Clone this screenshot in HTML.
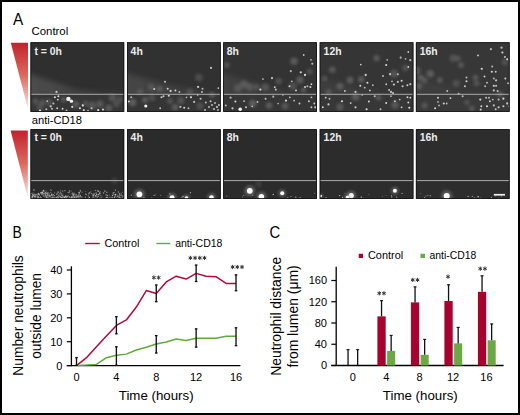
<!DOCTYPE html>
<html><head><meta charset="utf-8"><style>
html,body{margin:0;padding:0;background:#fff;}
body{width:520px;height:415px;overflow:hidden;}
svg{display:block;font-family:"Liberation Sans",sans-serif;}
</style></head><body>
<svg width="520" height="415" viewBox="0 0 520 415">
<defs>
<linearGradient id="tri" x1="0" y1="0" x2="0" y2="1"><stop offset="0" stop-color="#c2222e"/><stop offset="0.5" stop-color="#dd6a5e"/><stop offset="1" stop-color="#fbe9e6"/></linearGradient>
<filter id="blur1" x="-50%" y="-50%" width="200%" height="200%"><feGaussianBlur stdDeviation="1.6"/></filter>
<filter id="blur05" x="-50%" y="-50%" width="200%" height="200%"><feGaussianBlur stdDeviation="0.45"/></filter>
<linearGradient id="band" x1="0" y1="0" x2="0" y2="1"><stop offset="0" stop-color="#2c2c2c"/><stop offset="0.45" stop-color="#303030"/><stop offset="0.8" stop-color="#444"/><stop offset="1" stop-color="#3a3a3a"/></linearGradient>
<filter id="blur3" x="-50%" y="-50%" width="200%" height="200%"><feGaussianBlur stdDeviation="3.5"/></filter>
<filter id="blur03" x="-50%" y="-50%" width="200%" height="200%"><feGaussianBlur stdDeviation="0.3"/></filter>
<filter id="blur2" x="-50%" y="-50%" width="200%" height="200%"><feGaussianBlur stdDeviation="2.4"/></filter>
<filter id="blur04" x="-80%" y="-80%" width="260%" height="260%"><feGaussianBlur stdDeviation="0.5"/></filter>
</defs>
<rect x="1" y="1" width="518" height="413" fill="none" stroke="#000" stroke-width="2"/>
<text transform="translate(13.0,25.4) scale(0.9,1)" font-size="17">A</text>
<text x="31.5" y="34.5" font-size="11.4" text-anchor="start" fill="#000" >Control</text>
<text x="31.7" y="124.4" font-size="11.2" text-anchor="start" fill="#000" >anti-CD18</text>
<polygon points="10.8,42.8 28,42.8 28,109" fill="url(#tri)"/>
<polygon points="10.6,130.6 27.8,130.6 27.8,197.5" fill="url(#tri)"/>
<clipPath id="cp00"><rect x="30.9" y="42.699999999999996" width="92.9" height="68.7"/></clipPath>
<rect x="30.5" y="42.3" width="93.7" height="69.5" fill="#1c1c1c"/>
<g clip-path="url(#cp00)">
<rect x="30.5" y="42.3" width="93.7" height="69.5" fill="#2f2f2f"/>
<linearGradient id="bg0" gradientUnits="userSpaceOnUse" x1="30.5" y1="0" x2="124.2" y2="0"><stop offset="0" stop-color="#4c4c4c"/><stop offset="1" stop-color="#393939"/></linearGradient>
<path d="M24.5,72.4 L55,82 L75.7,89.2 L100,92.0 L124.2,92.5 L128.2,96.3 L24.5,96.3 Z" fill="url(#bg0)" filter="url(#blur2)"/>
<rect x="30.5" y="94.3" width="93.7" height="17.5" fill="#363636"/>
<circle cx="35.7" cy="101.5" r="2.93" fill="#6e6e6e" opacity="0.59" filter="url(#blur1)"/>
<circle cx="42.4" cy="102.5" r="3.12" fill="#6e6e6e" opacity="0.60" filter="url(#blur1)"/>
<circle cx="49.2" cy="102.5" r="3.48" fill="#6e6e6e" opacity="0.47" filter="url(#blur1)"/>
<circle cx="63.6" cy="99.6" r="2.62" fill="#6e6e6e" opacity="0.66" filter="url(#blur1)"/>
<circle cx="85.7" cy="103.5" r="2.96" fill="#6e6e6e" opacity="0.51" filter="url(#blur1)"/>
<circle cx="92.4" cy="105.4" r="3.99" fill="#6e6e6e" opacity="0.57" filter="url(#blur1)"/>
<circle cx="112.6" cy="97.7" r="3.77" fill="#6e6e6e" opacity="0.57" filter="url(#blur1)"/>
<circle cx="116.5" cy="103.5" r="3.49" fill="#6e6e6e" opacity="0.49" filter="url(#blur1)"/>
<circle cx="108.8" cy="108.3" r="3.49" fill="#6e6e6e" opacity="0.67" filter="url(#blur1)"/>
<circle cx="76" cy="104.4" r="3.33" fill="#6e6e6e" opacity="0.64" filter="url(#blur1)"/>
<circle cx="40" cy="107" r="3.54" fill="#6e6e6e" opacity="0.47" filter="url(#blur1)"/>
<circle cx="100" cy="104" r="3.66" fill="#6e6e6e" opacity="0.60" filter="url(#blur1)"/>
<circle cx="120" cy="99" r="3.02" fill="#6e6e6e" opacity="0.46" filter="url(#blur1)"/>
<circle cx="56.5" cy="91.9" r="1.11" fill="#e6e6e6" opacity="0.82" filter="url(#blur04)"/>
<circle cx="54.9" cy="97.3" r="1.07" fill="#e6e6e6" opacity="0.92" filter="url(#blur04)"/>
<circle cx="58.4" cy="96.2" r="1.06" fill="#e6e6e6" opacity="0.93" filter="url(#blur04)"/>
<circle cx="57.8" cy="99.6" r="0.97" fill="#e6e6e6" opacity="0.90" filter="url(#blur04)"/>
<circle cx="70.7" cy="101.5" r="0.98" fill="#e6e6e6" opacity="0.93" filter="url(#blur04)"/>
<circle cx="53.4" cy="103.5" r="1.11" fill="#e6e6e6" opacity="0.72" filter="url(#blur04)"/>
<circle cx="47.2" cy="101.2" r="0.89" fill="#e6e6e6" opacity="0.75" filter="url(#blur04)"/>
<circle cx="50.7" cy="106.3" r="1.14" fill="#e6e6e6" opacity="0.81" filter="url(#blur04)"/>
<circle cx="52" cy="108.8" r="1.04" fill="#e6e6e6" opacity="0.78" filter="url(#blur04)"/>
<circle cx="57.2" cy="108.3" r="1.00" fill="#e6e6e6" opacity="0.80" filter="url(#blur04)"/>
<circle cx="62.6" cy="108.8" r="0.96" fill="#e6e6e6" opacity="0.85" filter="url(#blur04)"/>
<circle cx="72.2" cy="106.9" r="1.03" fill="#e6e6e6" opacity="0.93" filter="url(#blur04)"/>
<circle cx="79.9" cy="108.3" r="1.05" fill="#e6e6e6" opacity="0.93" filter="url(#blur04)"/>
<circle cx="82.8" cy="105.4" r="1.11" fill="#e6e6e6" opacity="0.95" filter="url(#blur04)"/>
<circle cx="91.5" cy="108.3" r="1.05" fill="#e6e6e6" opacity="0.74" filter="url(#blur04)"/>
<circle cx="98.2" cy="110.2" r="1.11" fill="#e6e6e6" opacity="0.94" filter="url(#blur04)"/>
<circle cx="103" cy="109.6" r="1.12" fill="#e6e6e6" opacity="0.84" filter="url(#blur04)"/>
<circle cx="46.3" cy="109.2" r="1.06" fill="#e6e6e6" opacity="0.75" filter="url(#blur04)"/>
<circle cx="83.8" cy="110.2" r="1.10" fill="#e6e6e6" opacity="0.84" filter="url(#blur04)"/>
<circle cx="66.5" cy="110.5" r="0.94" fill="#e6e6e6" opacity="0.72" filter="url(#blur04)"/>
<circle cx="40" cy="110.6" r="1.11" fill="#e6e6e6" opacity="0.95" filter="url(#blur04)"/>
<circle cx="88" cy="110.8" r="0.88" fill="#e6e6e6" opacity="0.90" filter="url(#blur04)"/>
<circle cx="68.4" cy="98.9" r="2.2" fill="#f4f4f4" filter="url(#blur05)"/>
<circle cx="71.5" cy="101.2" r="1.6" fill="#f4f4f4" filter="url(#blur05)"/>
</g>
<line x1="31.0" y1="94.3" x2="123.7" y2="94.3" stroke="#ababab" stroke-width="1"/>
<rect x="30.9" y="42.699999999999996" width="92.9" height="68.7" fill="none" stroke="#161616" stroke-width="0.8"/>
<text transform="translate(34.40,55.00) scale(1.04,1)" font-size="10.0" font-weight="bold" fill="#ececec">t = 0h</text>
<clipPath id="cp01"><rect x="127.4" y="42.699999999999996" width="92.9" height="68.7"/></clipPath>
<rect x="127.0" y="42.3" width="93.7" height="69.5" fill="#1c1c1c"/>
<g clip-path="url(#cp01)">
<rect x="127.0" y="42.3" width="93.7" height="69.5" fill="#313131"/>
<linearGradient id="bg1" gradientUnits="userSpaceOnUse" x1="127.0" y1="0" x2="220.8" y2="0"><stop offset="0" stop-color="#464646"/><stop offset="1" stop-color="#383838"/></linearGradient>
<path d="M121.0,71.7 L163.5,83.3 L192.3,89 L220.8,92.5 L224.8,96.3 L121.0,96.3 Z" fill="url(#bg1)" filter="url(#blur2)"/>
<rect x="127.0" y="94.3" width="93.7" height="17.5" fill="#353535"/>
<circle cx="151" cy="87" r="3.17" fill="#6e6e6e" opacity="0.49" filter="url(#blur1)"/>
<circle cx="159.6" cy="89" r="3.01" fill="#6e6e6e" opacity="0.64" filter="url(#blur1)"/>
<circle cx="199" cy="77.5" r="3.82" fill="#6e6e6e" opacity="0.46" filter="url(#blur1)"/>
<circle cx="152" cy="97.7" r="3.46" fill="#6e6e6e" opacity="0.46" filter="url(#blur1)"/>
<circle cx="180.8" cy="100.6" r="3.61" fill="#6e6e6e" opacity="0.53" filter="url(#blur1)"/>
<circle cx="132.7" cy="102.5" r="3.83" fill="#6e6e6e" opacity="0.70" filter="url(#blur1)"/>
<circle cx="175" cy="107.3" r="3.31" fill="#6e6e6e" opacity="0.70" filter="url(#blur1)"/>
<circle cx="140" cy="92" r="3.03" fill="#6e6e6e" opacity="0.47" filter="url(#blur1)"/>
<circle cx="190" cy="92" r="3.44" fill="#6e6e6e" opacity="0.46" filter="url(#blur1)"/>
<circle cx="170" cy="101" r="2.88" fill="#6e6e6e" opacity="0.55" filter="url(#blur1)"/>
<circle cx="200" cy="106" r="3.45" fill="#6e6e6e" opacity="0.49" filter="url(#blur1)"/>
<circle cx="212" cy="95" r="2.66" fill="#6e6e6e" opacity="0.67" filter="url(#blur1)"/>
<circle cx="145" cy="100" r="3.04" fill="#6e6e6e" opacity="0.69" filter="url(#blur1)"/>
<circle cx="211" cy="67.9" r="1.12" fill="#e6e6e6" opacity="0.79" filter="url(#blur04)"/>
<circle cx="165" cy="81.7" r="0.99" fill="#e6e6e6" opacity="0.83" filter="url(#blur04)"/>
<circle cx="154.2" cy="89" r="1.04" fill="#e6e6e6" opacity="0.85" filter="url(#blur04)"/>
<circle cx="167.7" cy="88.7" r="1.02" fill="#e6e6e6" opacity="0.86" filter="url(#blur04)"/>
<circle cx="170.6" cy="91" r="1.13" fill="#e6e6e6" opacity="0.83" filter="url(#blur04)"/>
<circle cx="175.4" cy="90.4" r="0.98" fill="#e6e6e6" opacity="0.88" filter="url(#blur04)"/>
<circle cx="179.4" cy="91.9" r="0.92" fill="#e6e6e6" opacity="0.78" filter="url(#blur04)"/>
<circle cx="198.1" cy="86.9" r="1.14" fill="#e6e6e6" opacity="0.83" filter="url(#blur04)"/>
<circle cx="202.5" cy="88.7" r="1.01" fill="#e6e6e6" opacity="0.70" filter="url(#blur04)"/>
<circle cx="201.9" cy="91.9" r="0.97" fill="#e6e6e6" opacity="0.84" filter="url(#blur04)"/>
<circle cx="218.3" cy="88.1" r="0.86" fill="#e6e6e6" opacity="0.85" filter="url(#blur04)"/>
<circle cx="131.2" cy="97.3" r="1.04" fill="#e6e6e6" opacity="0.72" filter="url(#blur04)"/>
<circle cx="161.5" cy="97.3" r="1.04" fill="#e6e6e6" opacity="0.82" filter="url(#blur04)"/>
<circle cx="163.5" cy="96.2" r="1.05" fill="#e6e6e6" opacity="0.79" filter="url(#blur04)"/>
<circle cx="168.8" cy="95.8" r="1.06" fill="#e6e6e6" opacity="0.88" filter="url(#blur04)"/>
<circle cx="186.5" cy="97.3" r="0.86" fill="#e6e6e6" opacity="0.72" filter="url(#blur04)"/>
<circle cx="191" cy="97.3" r="1.05" fill="#e6e6e6" opacity="0.94" filter="url(#blur04)"/>
<circle cx="197.7" cy="94.8" r="0.93" fill="#e6e6e6" opacity="0.81" filter="url(#blur04)"/>
<circle cx="200.6" cy="98.7" r="1.03" fill="#e6e6e6" opacity="0.78" filter="url(#blur04)"/>
<circle cx="205.8" cy="102.5" r="0.96" fill="#e6e6e6" opacity="0.78" filter="url(#blur04)"/>
<circle cx="210.6" cy="101.2" r="0.96" fill="#e6e6e6" opacity="0.85" filter="url(#blur04)"/>
<circle cx="160.2" cy="108.3" r="0.94" fill="#e6e6e6" opacity="0.79" filter="url(#blur04)"/>
<circle cx="180.4" cy="106.9" r="1.08" fill="#e6e6e6" opacity="0.71" filter="url(#blur04)"/>
<circle cx="184.2" cy="107.7" r="1.02" fill="#e6e6e6" opacity="0.88" filter="url(#blur04)"/>
<circle cx="188.5" cy="108.3" r="0.94" fill="#e6e6e6" opacity="0.76" filter="url(#blur04)"/>
<circle cx="194.2" cy="101.9" r="1.09" fill="#e6e6e6" opacity="0.76" filter="url(#blur04)"/>
<circle cx="209" cy="107" r="0.91" fill="#e6e6e6" opacity="0.81" filter="url(#blur04)"/>
<circle cx="212" cy="105" r="1.06" fill="#e6e6e6" opacity="0.73" filter="url(#blur04)"/>
<circle cx="215" cy="103" r="0.95" fill="#e6e6e6" opacity="0.78" filter="url(#blur04)"/>
<circle cx="217" cy="107" r="1.10" fill="#e6e6e6" opacity="0.81" filter="url(#blur04)"/>
<circle cx="219" cy="105" r="1.11" fill="#e6e6e6" opacity="0.74" filter="url(#blur04)"/>
<circle cx="214" cy="109" r="0.95" fill="#e6e6e6" opacity="0.86" filter="url(#blur04)"/>
<circle cx="128.8" cy="101.5" r="1.12" fill="#e6e6e6" opacity="0.81" filter="url(#blur04)"/>
<circle cx="218" cy="110" r="0.92" fill="#e6e6e6" opacity="0.73" filter="url(#blur04)"/>
<circle cx="205" cy="110" r="1.01" fill="#e6e6e6" opacity="0.75" filter="url(#blur04)"/>
<circle cx="145.8" cy="106" r="1.6" fill="#f4f4f4" filter="url(#blur05)"/>
</g>
<line x1="127.5" y1="94.3" x2="220.2" y2="94.3" stroke="#ababab" stroke-width="1"/>
<rect x="127.4" y="42.699999999999996" width="92.9" height="68.7" fill="none" stroke="#161616" stroke-width="0.8"/>
<text transform="translate(130.60,55.00) scale(1.04,1)" font-size="10.0" font-weight="bold" fill="#ececec">4h</text>
<clipPath id="cp02"><rect x="223.6" y="42.699999999999996" width="92.9" height="68.7"/></clipPath>
<rect x="223.2" y="42.3" width="93.7" height="69.5" fill="#1c1c1c"/>
<g clip-path="url(#cp02)">
<rect x="223.2" y="42.3" width="93.7" height="69.5" fill="#333333"/>
<linearGradient id="bg2" gradientUnits="userSpaceOnUse" x1="223.2" y1="0" x2="317" y2="0"><stop offset="0" stop-color="#424242"/><stop offset="1" stop-color="#383838"/></linearGradient>
<path d="M217.2,71.7 L269,87 L288,91.5 L317,93 L321,96.3 L217.2,96.3 Z" fill="url(#bg2)" filter="url(#blur2)"/>
<rect x="223.2" y="94.3" width="93.7" height="17.5" fill="#363636"/>
<circle cx="294" cy="61.2" r="3.73" fill="#6e6e6e" opacity="0.66" filter="url(#blur1)"/>
<circle cx="309.5" cy="71.7" r="2.86" fill="#6e6e6e" opacity="0.52" filter="url(#blur1)"/>
<circle cx="244" cy="84.2" r="3.73" fill="#6e6e6e" opacity="0.61" filter="url(#blur1)"/>
<circle cx="249.8" cy="87.1" r="3.73" fill="#6e6e6e" opacity="0.54" filter="url(#blur1)"/>
<circle cx="256.6" cy="87.1" r="2.78" fill="#6e6e6e" opacity="0.52" filter="url(#blur1)"/>
<circle cx="265.2" cy="87.1" r="3.71" fill="#6e6e6e" opacity="0.52" filter="url(#blur1)"/>
<circle cx="226.8" cy="65" r="3.08" fill="#6e6e6e" opacity="0.55" filter="url(#blur1)"/>
<circle cx="278.7" cy="81.3" r="3.19" fill="#6e6e6e" opacity="0.55" filter="url(#blur1)"/>
<circle cx="293" cy="86.2" r="3.89" fill="#6e6e6e" opacity="0.49" filter="url(#blur1)"/>
<circle cx="303.7" cy="90" r="2.61" fill="#6e6e6e" opacity="0.69" filter="url(#blur1)"/>
<circle cx="252.7" cy="103.5" r="3.83" fill="#6e6e6e" opacity="0.70" filter="url(#blur1)"/>
<circle cx="269" cy="105.4" r="3.21" fill="#6e6e6e" opacity="0.69" filter="url(#blur1)"/>
<circle cx="238" cy="88" r="3.90" fill="#6e6e6e" opacity="0.51" filter="url(#blur1)"/>
<circle cx="300" cy="80" r="3.64" fill="#6e6e6e" opacity="0.66" filter="url(#blur1)"/>
<circle cx="285" cy="106" r="3.53" fill="#6e6e6e" opacity="0.58" filter="url(#blur1)"/>
<circle cx="303.7" cy="55" r="0.94" fill="#e6e6e6" opacity="0.79" filter="url(#blur04)"/>
<circle cx="311" cy="59.8" r="0.92" fill="#e6e6e6" opacity="0.72" filter="url(#blur04)"/>
<circle cx="312.3" cy="63.7" r="1.03" fill="#e6e6e6" opacity="0.77" filter="url(#blur04)"/>
<circle cx="290.8" cy="71.2" r="1.09" fill="#e6e6e6" opacity="0.71" filter="url(#blur04)"/>
<circle cx="300.8" cy="72.3" r="1.12" fill="#e6e6e6" opacity="0.87" filter="url(#blur04)"/>
<circle cx="305" cy="75" r="1.13" fill="#e6e6e6" opacity="0.92" filter="url(#blur04)"/>
<circle cx="272" cy="78.1" r="1.12" fill="#e6e6e6" opacity="0.84" filter="url(#blur04)"/>
<circle cx="262.9" cy="79" r="0.85" fill="#e6e6e6" opacity="0.89" filter="url(#blur04)"/>
<circle cx="291.8" cy="81.3" r="0.90" fill="#e6e6e6" opacity="0.77" filter="url(#blur04)"/>
<circle cx="289.5" cy="86.2" r="1.05" fill="#e6e6e6" opacity="0.83" filter="url(#blur04)"/>
<circle cx="274.8" cy="87.1" r="0.97" fill="#e6e6e6" opacity="0.93" filter="url(#blur04)"/>
<circle cx="275.8" cy="89.6" r="1.03" fill="#e6e6e6" opacity="0.79" filter="url(#blur04)"/>
<circle cx="296" cy="90.4" r="0.93" fill="#e6e6e6" opacity="0.92" filter="url(#blur04)"/>
<circle cx="305" cy="87.1" r="0.99" fill="#e6e6e6" opacity="0.90" filter="url(#blur04)"/>
<circle cx="307.5" cy="86.2" r="0.96" fill="#e6e6e6" opacity="0.75" filter="url(#blur04)"/>
<circle cx="310.4" cy="87.1" r="1.01" fill="#e6e6e6" opacity="0.90" filter="url(#blur04)"/>
<circle cx="311.4" cy="84.2" r="0.90" fill="#e6e6e6" opacity="0.90" filter="url(#blur04)"/>
<circle cx="260.4" cy="89.6" r="1.13" fill="#e6e6e6" opacity="0.90" filter="url(#blur04)"/>
<circle cx="230.6" cy="97.7" r="1.10" fill="#e6e6e6" opacity="0.70" filter="url(#blur04)"/>
<circle cx="235.4" cy="101.5" r="1.04" fill="#e6e6e6" opacity="0.92" filter="url(#blur04)"/>
<circle cx="244.1" cy="101.2" r="0.86" fill="#e6e6e6" opacity="0.77" filter="url(#blur04)"/>
<circle cx="257.5" cy="101.9" r="0.93" fill="#e6e6e6" opacity="0.83" filter="url(#blur04)"/>
<circle cx="265.6" cy="98.7" r="0.98" fill="#e6e6e6" opacity="0.82" filter="url(#blur04)"/>
<circle cx="273.3" cy="96.7" r="1.08" fill="#e6e6e6" opacity="0.70" filter="url(#blur04)"/>
<circle cx="278.1" cy="103.5" r="0.87" fill="#e6e6e6" opacity="0.73" filter="url(#blur04)"/>
<circle cx="282.9" cy="94.8" r="0.89" fill="#e6e6e6" opacity="0.72" filter="url(#blur04)"/>
<circle cx="286" cy="100.6" r="1.14" fill="#e6e6e6" opacity="0.91" filter="url(#blur04)"/>
<circle cx="289.8" cy="97.3" r="0.88" fill="#e6e6e6" opacity="0.83" filter="url(#blur04)"/>
<circle cx="294.1" cy="100.6" r="0.94" fill="#e6e6e6" opacity="0.78" filter="url(#blur04)"/>
<circle cx="299.5" cy="103.5" r="0.96" fill="#e6e6e6" opacity="0.86" filter="url(#blur04)"/>
<circle cx="308.9" cy="101.2" r="1.03" fill="#e6e6e6" opacity="0.79" filter="url(#blur04)"/>
<circle cx="311.4" cy="97.3" r="0.91" fill="#e6e6e6" opacity="0.78" filter="url(#blur04)"/>
<circle cx="314.3" cy="103.5" r="0.89" fill="#e6e6e6" opacity="0.84" filter="url(#blur04)"/>
<circle cx="246" cy="107.3" r="1.06" fill="#e6e6e6" opacity="0.80" filter="url(#blur04)"/>
<circle cx="252.2" cy="106.3" r="0.87" fill="#e6e6e6" opacity="0.74" filter="url(#blur04)"/>
<circle cx="311.4" cy="107.3" r="0.96" fill="#e6e6e6" opacity="0.85" filter="url(#blur04)"/>
<circle cx="315.2" cy="107.3" r="1.08" fill="#e6e6e6" opacity="0.80" filter="url(#blur04)"/>
<circle cx="232.5" cy="108.3" r="1.09" fill="#e6e6e6" opacity="0.86" filter="url(#blur04)"/>
<circle cx="225.8" cy="105.4" r="0.98" fill="#e6e6e6" opacity="0.79" filter="url(#blur04)"/>
<circle cx="240.2" cy="109.2" r="1.8" fill="#f4f4f4" filter="url(#blur05)"/>
</g>
<line x1="223.7" y1="94.3" x2="316.4" y2="94.3" stroke="#ababab" stroke-width="1"/>
<rect x="223.6" y="42.699999999999996" width="92.9" height="68.7" fill="none" stroke="#161616" stroke-width="0.8"/>
<text transform="translate(226.80,55.00) scale(1.04,1)" font-size="10.0" font-weight="bold" fill="#ececec">8h</text>
<clipPath id="cp03"><rect x="320.09999999999997" y="42.699999999999996" width="92.9" height="68.7"/></clipPath>
<rect x="319.7" y="42.3" width="93.7" height="69.5" fill="#1c1c1c"/>
<g clip-path="url(#cp03)">
<rect x="319.7" y="42.3" width="93.7" height="69.5" fill="#353535"/>
<linearGradient id="bg3" gradientUnits="userSpaceOnUse" x1="319.7" y1="0" x2="413" y2="0"><stop offset="0" stop-color="#3e3e3e"/><stop offset="1" stop-color="#373737"/></linearGradient>
<path d="M313.7,77.5 L345,84 L374.7,91 L413,93 L417,96.3 L313.7,96.3 Z" fill="url(#bg3)" filter="url(#blur2)"/>
<rect x="319.7" y="94.3" width="93.7" height="17.5" fill="#373737"/>
<circle cx="332.4" cy="69.8" r="3.29" fill="#6e6e6e" opacity="0.63" filter="url(#blur1)"/>
<circle cx="376.6" cy="58.3" r="3.19" fill="#6e6e6e" opacity="0.62" filter="url(#blur1)"/>
<circle cx="405.5" cy="67.9" r="3.25" fill="#6e6e6e" opacity="0.51" filter="url(#blur1)"/>
<circle cx="340" cy="86.2" r="3.35" fill="#6e6e6e" opacity="0.62" filter="url(#blur1)"/>
<circle cx="324.7" cy="78.5" r="2.70" fill="#6e6e6e" opacity="0.56" filter="url(#blur1)"/>
<circle cx="361.2" cy="79.4" r="3.20" fill="#6e6e6e" opacity="0.67" filter="url(#blur1)"/>
<circle cx="394" cy="73.7" r="3.91" fill="#6e6e6e" opacity="0.54" filter="url(#blur1)"/>
<circle cx="355.5" cy="96.7" r="3.86" fill="#6e6e6e" opacity="0.65" filter="url(#blur1)"/>
<circle cx="328.5" cy="92" r="2.97" fill="#6e6e6e" opacity="0.57" filter="url(#blur1)"/>
<circle cx="378.5" cy="97.7" r="2.77" fill="#6e6e6e" opacity="0.65" filter="url(#blur1)"/>
<circle cx="350" cy="80" r="3.53" fill="#6e6e6e" opacity="0.67" filter="url(#blur1)"/>
<circle cx="395" cy="105" r="3.71" fill="#6e6e6e" opacity="0.62" filter="url(#blur1)"/>
<circle cx="340" cy="107" r="3.63" fill="#6e6e6e" opacity="0.59" filter="url(#blur1)"/>
<circle cx="360.8" cy="64.6" r="0.88" fill="#e6e6e6" opacity="0.85" filter="url(#blur04)"/>
<circle cx="387.2" cy="59.8" r="0.85" fill="#e6e6e6" opacity="0.74" filter="url(#blur04)"/>
<circle cx="400.7" cy="57.7" r="1.08" fill="#e6e6e6" opacity="0.71" filter="url(#blur04)"/>
<circle cx="405.5" cy="58.8" r="0.88" fill="#e6e6e6" opacity="0.72" filter="url(#blur04)"/>
<circle cx="410.3" cy="60.2" r="1.11" fill="#e6e6e6" opacity="0.74" filter="url(#blur04)"/>
<circle cx="408.3" cy="51.9" r="0.86" fill="#e6e6e6" opacity="0.91" filter="url(#blur04)"/>
<circle cx="408.3" cy="66.9" r="0.89" fill="#e6e6e6" opacity="0.91" filter="url(#blur04)"/>
<circle cx="386.2" cy="65" r="1.05" fill="#e6e6e6" opacity="0.91" filter="url(#blur04)"/>
<circle cx="365.7" cy="75" r="1.14" fill="#e6e6e6" opacity="0.84" filter="url(#blur04)"/>
<circle cx="383" cy="76" r="1.09" fill="#e6e6e6" opacity="0.71" filter="url(#blur04)"/>
<circle cx="390.1" cy="74.2" r="1.08" fill="#e6e6e6" opacity="0.83" filter="url(#blur04)"/>
<circle cx="397.8" cy="74.2" r="1.06" fill="#e6e6e6" opacity="0.73" filter="url(#blur04)"/>
<circle cx="367.4" cy="82.7" r="1.07" fill="#e6e6e6" opacity="0.93" filter="url(#blur04)"/>
<circle cx="372.8" cy="85.2" r="0.87" fill="#e6e6e6" opacity="0.78" filter="url(#blur04)"/>
<circle cx="360.3" cy="85.8" r="1.02" fill="#e6e6e6" opacity="0.91" filter="url(#blur04)"/>
<circle cx="364.7" cy="87.7" r="0.92" fill="#e6e6e6" opacity="0.74" filter="url(#blur04)"/>
<circle cx="344.9" cy="91" r="0.92" fill="#e6e6e6" opacity="0.85" filter="url(#blur04)"/>
<circle cx="355.5" cy="91.9" r="1.08" fill="#e6e6e6" opacity="0.80" filter="url(#blur04)"/>
<circle cx="369.9" cy="90.4" r="0.96" fill="#e6e6e6" opacity="0.80" filter="url(#blur04)"/>
<circle cx="386.2" cy="84.2" r="0.96" fill="#e6e6e6" opacity="0.80" filter="url(#blur04)"/>
<circle cx="392" cy="81.3" r="0.87" fill="#e6e6e6" opacity="0.83" filter="url(#blur04)"/>
<circle cx="393.9" cy="84.6" r="1.14" fill="#e6e6e6" opacity="0.80" filter="url(#blur04)"/>
<circle cx="397.8" cy="81.9" r="1.07" fill="#e6e6e6" opacity="0.74" filter="url(#blur04)"/>
<circle cx="401.6" cy="80.8" r="1.06" fill="#e6e6e6" opacity="0.89" filter="url(#blur04)"/>
<circle cx="402.6" cy="86.2" r="1.05" fill="#e6e6e6" opacity="0.83" filter="url(#blur04)"/>
<circle cx="407.4" cy="85.2" r="1.00" fill="#e6e6e6" opacity="0.86" filter="url(#blur04)"/>
<circle cx="410.3" cy="84.2" r="1.12" fill="#e6e6e6" opacity="0.74" filter="url(#blur04)"/>
<circle cx="389.1" cy="90" r="0.88" fill="#e6e6e6" opacity="0.89" filter="url(#blur04)"/>
<circle cx="391" cy="91.9" r="1.12" fill="#e6e6e6" opacity="0.83" filter="url(#blur04)"/>
<circle cx="393" cy="92.9" r="0.98" fill="#e6e6e6" opacity="0.88" filter="url(#blur04)"/>
<circle cx="362.2" cy="94.8" r="0.91" fill="#e6e6e6" opacity="0.77" filter="url(#blur04)"/>
<circle cx="325.7" cy="97.7" r="0.91" fill="#e6e6e6" opacity="0.85" filter="url(#blur04)"/>
<circle cx="329.5" cy="98.7" r="0.94" fill="#e6e6e6" opacity="0.76" filter="url(#blur04)"/>
<circle cx="342" cy="101.2" r="1.06" fill="#e6e6e6" opacity="0.94" filter="url(#blur04)"/>
<circle cx="350.7" cy="103.1" r="0.94" fill="#e6e6e6" opacity="0.88" filter="url(#blur04)"/>
<circle cx="368.9" cy="101.5" r="0.97" fill="#e6e6e6" opacity="0.91" filter="url(#blur04)"/>
<circle cx="374.7" cy="96.2" r="1.03" fill="#e6e6e6" opacity="0.77" filter="url(#blur04)"/>
<circle cx="391" cy="96.2" r="0.92" fill="#e6e6e6" opacity="0.71" filter="url(#blur04)"/>
<circle cx="394.9" cy="101.2" r="0.99" fill="#e6e6e6" opacity="0.80" filter="url(#blur04)"/>
<circle cx="399.7" cy="99.6" r="0.90" fill="#e6e6e6" opacity="0.79" filter="url(#blur04)"/>
<circle cx="407.4" cy="97.3" r="0.95" fill="#e6e6e6" opacity="0.89" filter="url(#blur04)"/>
<circle cx="410.3" cy="97.7" r="0.89" fill="#e6e6e6" opacity="0.95" filter="url(#blur04)"/>
<circle cx="408.3" cy="102.5" r="0.99" fill="#e6e6e6" opacity="0.85" filter="url(#blur04)"/>
<circle cx="386.2" cy="103.1" r="0.99" fill="#e6e6e6" opacity="0.91" filter="url(#blur04)"/>
<circle cx="328.5" cy="104.4" r="1.10" fill="#e6e6e6" opacity="0.84" filter="url(#blur04)"/>
<circle cx="322.8" cy="107.3" r="0.99" fill="#e6e6e6" opacity="0.88" filter="url(#blur04)"/>
<circle cx="355.5" cy="107.3" r="1.11" fill="#e6e6e6" opacity="0.80" filter="url(#blur04)"/>
<circle cx="366.6" cy="109.2" r="1.07" fill="#e6e6e6" opacity="0.94" filter="url(#blur04)"/>
<circle cx="380.5" cy="109.2" r="0.99" fill="#e6e6e6" opacity="0.76" filter="url(#blur04)"/>
<circle cx="401.6" cy="107.3" r="0.92" fill="#e6e6e6" opacity="0.88" filter="url(#blur04)"/>
<circle cx="409.3" cy="107.7" r="1.05" fill="#e6e6e6" opacity="0.94" filter="url(#blur04)"/>
</g>
<line x1="320.2" y1="94.3" x2="412.9" y2="94.3" stroke="#ababab" stroke-width="1"/>
<rect x="320.09999999999997" y="42.699999999999996" width="92.9" height="68.7" fill="none" stroke="#161616" stroke-width="0.8"/>
<text transform="translate(323.60,55.00) scale(1.04,1)" font-size="10.0" font-weight="bold" fill="#ececec">12h</text>
<clipPath id="cp04"><rect x="416.29999999999995" y="42.699999999999996" width="92.9" height="68.7"/></clipPath>
<rect x="415.9" y="42.3" width="93.7" height="69.5" fill="#1c1c1c"/>
<g clip-path="url(#cp04)">
<rect x="415.9" y="42.3" width="93.7" height="69.5" fill="#373737"/>
<linearGradient id="bg4" gradientUnits="userSpaceOnUse" x1="415.9" y1="0" x2="509" y2="0"><stop offset="0" stop-color="#3d3d3d"/><stop offset="1" stop-color="#393939"/></linearGradient>
<path d="M409.9,76.5 L451.5,88 L475,92.5 L509,93.5 L513,96.3 L409.9,96.3 Z" fill="url(#bg4)" filter="url(#blur2)"/>
<rect x="415.9" y="94.3" width="93.7" height="17.5" fill="#393939"/>
<circle cx="453.4" cy="58.3" r="3.80" fill="#6e6e6e" opacity="0.51" filter="url(#blur1)"/>
<circle cx="458.2" cy="58.3" r="2.87" fill="#6e6e6e" opacity="0.51" filter="url(#blur1)"/>
<circle cx="461.1" cy="65" r="2.86" fill="#6e6e6e" opacity="0.63" filter="url(#blur1)"/>
<circle cx="430.3" cy="73.7" r="3.80" fill="#6e6e6e" opacity="0.67" filter="url(#blur1)"/>
<circle cx="420.7" cy="77.5" r="2.96" fill="#6e6e6e" opacity="0.67" filter="url(#blur1)"/>
<circle cx="424.5" cy="80.4" r="3.04" fill="#6e6e6e" opacity="0.56" filter="url(#blur1)"/>
<circle cx="456.3" cy="83.3" r="3.62" fill="#6e6e6e" opacity="0.47" filter="url(#blur1)"/>
<circle cx="475.5" cy="77.5" r="2.73" fill="#6e6e6e" opacity="0.66" filter="url(#blur1)"/>
<circle cx="476.5" cy="83.3" r="3.01" fill="#6e6e6e" opacity="0.54" filter="url(#blur1)"/>
<circle cx="418.8" cy="86.2" r="3.41" fill="#6e6e6e" opacity="0.62" filter="url(#blur1)"/>
<circle cx="466.8" cy="102.5" r="2.61" fill="#6e6e6e" opacity="0.53" filter="url(#blur1)"/>
<circle cx="424.5" cy="105.4" r="3.21" fill="#6e6e6e" opacity="0.57" filter="url(#blur1)"/>
<circle cx="471.7" cy="108.3" r="2.89" fill="#6e6e6e" opacity="0.60" filter="url(#blur1)"/>
<circle cx="416.8" cy="70.8" r="3.94" fill="#6e6e6e" opacity="0.55" filter="url(#blur1)"/>
<circle cx="505" cy="62" r="3.36" fill="#6e6e6e" opacity="0.48" filter="url(#blur1)"/>
<circle cx="440" cy="80" r="2.98" fill="#6e6e6e" opacity="0.62" filter="url(#blur1)"/>
<circle cx="500" cy="94" r="2.76" fill="#6e6e6e" opacity="0.67" filter="url(#blur1)"/>
<circle cx="490.9" cy="49.2" r="1.12" fill="#e6e6e6" opacity="0.72" filter="url(#blur04)"/>
<circle cx="501.5" cy="47.7" r="1.13" fill="#e6e6e6" opacity="0.79" filter="url(#blur04)"/>
<circle cx="502.4" cy="52.5" r="1.08" fill="#e6e6e6" opacity="0.89" filter="url(#blur04)"/>
<circle cx="504.9" cy="56.9" r="0.94" fill="#e6e6e6" opacity="0.87" filter="url(#blur04)"/>
<circle cx="507.2" cy="59.2" r="1.05" fill="#e6e6e6" opacity="0.90" filter="url(#blur04)"/>
<circle cx="478" cy="55.4" r="0.93" fill="#e6e6e6" opacity="0.89" filter="url(#blur04)"/>
<circle cx="481.8" cy="68.8" r="1.14" fill="#e6e6e6" opacity="0.87" filter="url(#blur04)"/>
<circle cx="492.2" cy="66.5" r="1.01" fill="#e6e6e6" opacity="0.73" filter="url(#blur04)"/>
<circle cx="495.7" cy="71.7" r="1.00" fill="#e6e6e6" opacity="0.79" filter="url(#blur04)"/>
<circle cx="491.8" cy="71.7" r="1.07" fill="#e6e6e6" opacity="0.87" filter="url(#blur04)"/>
<circle cx="466.5" cy="77.5" r="1.02" fill="#e6e6e6" opacity="0.75" filter="url(#blur04)"/>
<circle cx="466.5" cy="81.3" r="1.04" fill="#e6e6e6" opacity="0.86" filter="url(#blur04)"/>
<circle cx="484.5" cy="76.5" r="0.90" fill="#e6e6e6" opacity="0.92" filter="url(#blur04)"/>
<circle cx="493.8" cy="78.5" r="1.05" fill="#e6e6e6" opacity="0.73" filter="url(#blur04)"/>
<circle cx="496.1" cy="80.4" r="1.13" fill="#e6e6e6" opacity="0.74" filter="url(#blur04)"/>
<circle cx="505.3" cy="78.5" r="0.95" fill="#e6e6e6" opacity="0.88" filter="url(#blur04)"/>
<circle cx="508.2" cy="83.3" r="1.03" fill="#e6e6e6" opacity="0.84" filter="url(#blur04)"/>
<circle cx="464.9" cy="86.2" r="1.04" fill="#e6e6e6" opacity="0.81" filter="url(#blur04)"/>
<circle cx="485.1" cy="86.2" r="0.94" fill="#e6e6e6" opacity="0.74" filter="url(#blur04)"/>
<circle cx="487" cy="82.7" r="0.87" fill="#e6e6e6" opacity="0.88" filter="url(#blur04)"/>
<circle cx="493.8" cy="85.8" r="1.08" fill="#e6e6e6" opacity="0.84" filter="url(#blur04)"/>
<circle cx="496.1" cy="85.8" r="1.07" fill="#e6e6e6" opacity="0.79" filter="url(#blur04)"/>
<circle cx="447.2" cy="91" r="0.93" fill="#e6e6e6" opacity="0.80" filter="url(#blur04)"/>
<circle cx="458.6" cy="93.8" r="1.11" fill="#e6e6e6" opacity="0.71" filter="url(#blur04)"/>
<circle cx="462.6" cy="96.2" r="1.00" fill="#e6e6e6" opacity="0.76" filter="url(#blur04)"/>
<circle cx="493.8" cy="90.4" r="1.08" fill="#e6e6e6" opacity="0.79" filter="url(#blur04)"/>
<circle cx="497.6" cy="91" r="0.95" fill="#e6e6e6" opacity="0.80" filter="url(#blur04)"/>
<circle cx="438" cy="97.7" r="1.01" fill="#e6e6e6" opacity="0.89" filter="url(#blur04)"/>
<circle cx="450.5" cy="98.1" r="0.96" fill="#e6e6e6" opacity="0.91" filter="url(#blur04)"/>
<circle cx="438" cy="101.9" r="0.88" fill="#e6e6e6" opacity="0.77" filter="url(#blur04)"/>
<circle cx="439" cy="105.4" r="0.88" fill="#e6e6e6" opacity="0.73" filter="url(#blur04)"/>
<circle cx="443.8" cy="103.5" r="1.08" fill="#e6e6e6" opacity="0.88" filter="url(#blur04)"/>
<circle cx="446.7" cy="103.5" r="0.91" fill="#e6e6e6" opacity="0.75" filter="url(#blur04)"/>
<circle cx="435.1" cy="108.3" r="0.97" fill="#e6e6e6" opacity="0.89" filter="url(#blur04)"/>
<circle cx="480.3" cy="99.6" r="1.09" fill="#e6e6e6" opacity="0.89" filter="url(#blur04)"/>
<circle cx="486.1" cy="97.7" r="1.03" fill="#e6e6e6" opacity="0.74" filter="url(#blur04)"/>
<circle cx="489" cy="97.7" r="0.97" fill="#e6e6e6" opacity="0.75" filter="url(#blur04)"/>
<circle cx="489.9" cy="101.2" r="1.01" fill="#e6e6e6" opacity="0.84" filter="url(#blur04)"/>
<circle cx="492.8" cy="99.6" r="0.91" fill="#e6e6e6" opacity="0.76" filter="url(#blur04)"/>
<circle cx="498.6" cy="99.6" r="1.08" fill="#e6e6e6" opacity="0.71" filter="url(#blur04)"/>
<circle cx="503.4" cy="98.7" r="1.09" fill="#e6e6e6" opacity="0.92" filter="url(#blur04)"/>
<circle cx="507.2" cy="103.5" r="1.13" fill="#e6e6e6" opacity="0.80" filter="url(#blur04)"/>
<circle cx="481.3" cy="106.3" r="1.02" fill="#e6e6e6" opacity="0.85" filter="url(#blur04)"/>
<circle cx="487" cy="106.3" r="1.04" fill="#e6e6e6" opacity="0.94" filter="url(#blur04)"/>
<circle cx="493.8" cy="105.4" r="1.06" fill="#e6e6e6" opacity="0.77" filter="url(#blur04)"/>
<circle cx="498.6" cy="107.3" r="1.11" fill="#e6e6e6" opacity="0.82" filter="url(#blur04)"/>
<circle cx="503.4" cy="106.3" r="1.03" fill="#e6e6e6" opacity="0.88" filter="url(#blur04)"/>
<circle cx="509.2" cy="106.3" r="0.85" fill="#e6e6e6" opacity="0.89" filter="url(#blur04)"/>
<circle cx="480.7" cy="109.6" r="1.05" fill="#e6e6e6" opacity="0.82" filter="url(#blur04)"/>
<circle cx="495.7" cy="109.2" r="1.01" fill="#e6e6e6" opacity="0.82" filter="url(#blur04)"/>
</g>
<line x1="416.4" y1="94.3" x2="509.09999999999997" y2="94.3" stroke="#ababab" stroke-width="1"/>
<rect x="416.29999999999995" y="42.699999999999996" width="92.9" height="68.7" fill="none" stroke="#161616" stroke-width="0.8"/>
<text transform="translate(419.70,55.00) scale(1.04,1)" font-size="10.0" font-weight="bold" fill="#ececec">16h</text>
<clipPath id="cp10"><rect x="30.9" y="129.6" width="92.9" height="68.90000000000002"/></clipPath>
<rect x="30.5" y="129.2" width="93.7" height="69.70000000000002" fill="#1c1c1c"/>
<g clip-path="url(#cp10)">
<rect x="30.5" y="129.2" width="93.7" height="69.70000000000002" fill="#2a2a2a"/>
<circle cx="114.5" cy="180.8" r="3" fill="#555" opacity="0.5" filter="url(#blur1)"/>
<circle cx="48.6" cy="198.5" r="0.82" fill="rgb(174,174,174)" opacity="0.85"/>
<circle cx="119.2" cy="197.2" r="0.81" fill="rgb(194,194,194)" opacity="0.85"/>
<circle cx="43.2" cy="195.0" r="0.46" fill="rgb(116,116,116)" opacity="0.85"/>
<circle cx="88.4" cy="195.9" r="0.82" fill="rgb(112,112,112)" opacity="0.85"/>
<circle cx="60.8" cy="194.4" r="0.48" fill="rgb(127,127,127)" opacity="0.85"/>
<circle cx="33.7" cy="189.9" r="0.53" fill="rgb(213,213,213)" opacity="0.85"/>
<circle cx="36.4" cy="194.4" r="0.64" fill="rgb(138,138,138)" opacity="0.85"/>
<circle cx="40.7" cy="198.3" r="0.73" fill="rgb(135,135,135)" opacity="0.85"/>
<circle cx="67.2" cy="198.4" r="0.53" fill="rgb(164,164,164)" opacity="0.85"/>
<circle cx="76.3" cy="196.2" r="0.61" fill="rgb(198,198,198)" opacity="0.85"/>
<circle cx="47.4" cy="194.2" r="0.79" fill="rgb(156,156,156)" opacity="0.85"/>
<circle cx="72.5" cy="196.5" r="0.77" fill="rgb(110,110,110)" opacity="0.85"/>
<circle cx="54.7" cy="192.8" r="0.53" fill="rgb(178,178,178)" opacity="0.85"/>
<circle cx="50.1" cy="196.5" r="0.70" fill="rgb(131,131,131)" opacity="0.85"/>
<circle cx="43.5" cy="196.3" r="0.47" fill="rgb(133,133,133)" opacity="0.85"/>
<circle cx="32.6" cy="196.5" r="0.74" fill="rgb(200,200,200)" opacity="0.85"/>
<circle cx="52.9" cy="196.0" r="0.55" fill="rgb(138,138,138)" opacity="0.85"/>
<circle cx="67.0" cy="197.0" r="0.59" fill="rgb(124,124,124)" opacity="0.85"/>
<circle cx="42.1" cy="194.2" r="0.84" fill="rgb(145,145,145)" opacity="0.85"/>
<circle cx="120.6" cy="195.5" r="0.78" fill="rgb(113,113,113)" opacity="0.85"/>
<circle cx="89.4" cy="198.2" r="0.62" fill="rgb(197,197,197)" opacity="0.85"/>
<circle cx="38.9" cy="198.2" r="0.49" fill="rgb(197,197,197)" opacity="0.85"/>
<circle cx="46.5" cy="198.4" r="0.65" fill="rgb(193,193,193)" opacity="0.85"/>
<circle cx="61.5" cy="193.9" r="0.77" fill="rgb(153,153,153)" opacity="0.85"/>
<circle cx="33.7" cy="195.2" r="0.49" fill="rgb(160,160,160)" opacity="0.85"/>
<circle cx="58.0" cy="198.1" r="0.67" fill="rgb(159,159,159)" opacity="0.85"/>
<circle cx="68.2" cy="192.7" r="0.78" fill="rgb(159,159,159)" opacity="0.85"/>
<circle cx="64.5" cy="197.5" r="0.73" fill="rgb(209,209,209)" opacity="0.85"/>
<circle cx="62.8" cy="195.9" r="0.69" fill="rgb(206,206,206)" opacity="0.85"/>
<circle cx="97.1" cy="196.0" r="0.52" fill="rgb(129,129,129)" opacity="0.85"/>
<circle cx="39.1" cy="194.7" r="0.54" fill="rgb(150,150,150)" opacity="0.85"/>
<circle cx="72.7" cy="194.1" r="0.85" fill="rgb(152,152,152)" opacity="0.85"/>
<circle cx="30.7" cy="193.6" r="0.59" fill="rgb(123,123,123)" opacity="0.85"/>
<circle cx="59.7" cy="193.2" r="0.55" fill="rgb(136,136,136)" opacity="0.85"/>
<circle cx="35.1" cy="194.9" r="0.84" fill="rgb(184,184,184)" opacity="0.85"/>
<circle cx="41.0" cy="197.7" r="0.66" fill="rgb(181,181,181)" opacity="0.85"/>
<circle cx="77.8" cy="197.0" r="0.76" fill="rgb(178,178,178)" opacity="0.85"/>
<circle cx="74.3" cy="198.5" r="0.50" fill="rgb(213,213,213)" opacity="0.85"/>
<circle cx="32.7" cy="197.7" r="0.48" fill="rgb(142,142,142)" opacity="0.85"/>
<circle cx="74.1" cy="193.1" r="0.49" fill="rgb(188,188,188)" opacity="0.85"/>
<circle cx="76.0" cy="194.4" r="0.69" fill="rgb(161,161,161)" opacity="0.85"/>
<circle cx="72.3" cy="193.1" r="0.63" fill="rgb(186,186,186)" opacity="0.85"/>
<circle cx="66.1" cy="198.7" r="0.74" fill="rgb(148,148,148)" opacity="0.85"/>
<circle cx="37.7" cy="196.0" r="0.82" fill="rgb(119,119,119)" opacity="0.85"/>
<circle cx="94.8" cy="193.6" r="0.69" fill="rgb(118,118,118)" opacity="0.85"/>
<circle cx="50.6" cy="189.8" r="0.54" fill="rgb(152,152,152)" opacity="0.85"/>
<circle cx="71.6" cy="197.0" r="0.82" fill="rgb(205,205,205)" opacity="0.85"/>
<circle cx="117.8" cy="196.4" r="0.81" fill="rgb(134,134,134)" opacity="0.85"/>
<circle cx="119.5" cy="193.7" r="0.64" fill="rgb(162,162,162)" opacity="0.85"/>
<circle cx="85.6" cy="191.2" r="0.52" fill="rgb(112,112,112)" opacity="0.85"/>
<circle cx="39.5" cy="197.2" r="0.47" fill="rgb(176,176,176)" opacity="0.85"/>
<circle cx="74.7" cy="197.7" r="0.62" fill="rgb(172,172,172)" opacity="0.85"/>
<circle cx="62.8" cy="194.0" r="0.51" fill="rgb(146,146,146)" opacity="0.85"/>
<circle cx="72.1" cy="196.3" r="0.51" fill="rgb(136,136,136)" opacity="0.85"/>
<circle cx="112.6" cy="197.9" r="0.83" fill="rgb(149,149,149)" opacity="0.85"/>
<circle cx="74.9" cy="197.6" r="0.56" fill="rgb(146,146,146)" opacity="0.85"/>
<circle cx="73.9" cy="193.4" r="0.75" fill="rgb(148,148,148)" opacity="0.85"/>
<circle cx="117.7" cy="198.6" r="0.66" fill="rgb(190,190,190)" opacity="0.85"/>
<circle cx="80.7" cy="198.5" r="0.84" fill="rgb(136,136,136)" opacity="0.85"/>
<circle cx="104.8" cy="191.0" r="0.84" fill="rgb(156,156,156)" opacity="0.85"/>
<circle cx="33.8" cy="198.6" r="0.81" fill="rgb(165,165,165)" opacity="0.85"/>
<circle cx="106.5" cy="197.4" r="0.77" fill="rgb(196,196,196)" opacity="0.85"/>
<circle cx="69.7" cy="198.5" r="0.46" fill="rgb(164,164,164)" opacity="0.85"/>
<circle cx="123.8" cy="193.8" r="0.55" fill="rgb(182,182,182)" opacity="0.85"/>
<circle cx="43.2" cy="193.6" r="0.75" fill="rgb(175,175,175)" opacity="0.85"/>
<circle cx="62.1" cy="198.6" r="0.46" fill="rgb(115,115,115)" opacity="0.85"/>
<circle cx="115.4" cy="194.7" r="0.84" fill="rgb(214,214,214)" opacity="0.85"/>
<circle cx="78.8" cy="195.0" r="0.52" fill="rgb(147,147,147)" opacity="0.85"/>
<circle cx="81.8" cy="196.8" r="0.56" fill="rgb(168,168,168)" opacity="0.85"/>
<circle cx="54.4" cy="195.7" r="0.58" fill="rgb(183,183,183)" opacity="0.85"/>
<circle cx="79.4" cy="192.9" r="0.63" fill="rgb(215,215,215)" opacity="0.85"/>
<circle cx="85.4" cy="197.1" r="0.67" fill="rgb(186,186,186)" opacity="0.85"/>
<circle cx="76.2" cy="194.3" r="0.49" fill="rgb(144,144,144)" opacity="0.85"/>
<circle cx="93.2" cy="195.8" r="0.83" fill="rgb(206,206,206)" opacity="0.85"/>
<circle cx="90.8" cy="191.9" r="0.71" fill="rgb(133,133,133)" opacity="0.85"/>
<circle cx="118.7" cy="198.5" r="0.83" fill="rgb(137,137,137)" opacity="0.85"/>
<circle cx="118.9" cy="196.6" r="0.46" fill="rgb(146,146,146)" opacity="0.85"/>
<circle cx="69.6" cy="192.2" r="0.54" fill="rgb(173,173,173)" opacity="0.85"/>
<circle cx="49.2" cy="195.7" r="0.70" fill="rgb(205,205,205)" opacity="0.85"/>
<circle cx="42.1" cy="192.5" r="0.84" fill="rgb(146,146,146)" opacity="0.85"/>
<circle cx="95.3" cy="190.4" r="0.56" fill="rgb(169,169,169)" opacity="0.85"/>
<circle cx="81.7" cy="197.5" r="0.51" fill="rgb(131,131,131)" opacity="0.85"/>
<circle cx="115.3" cy="190.0" r="0.61" fill="rgb(196,196,196)" opacity="0.85"/>
<circle cx="31.3" cy="197.8" r="0.52" fill="rgb(190,190,190)" opacity="0.85"/>
<circle cx="48.3" cy="192.6" r="0.66" fill="rgb(116,116,116)" opacity="0.85"/>
<circle cx="44.7" cy="193.7" r="0.61" fill="rgb(165,165,165)" opacity="0.85"/>
<circle cx="123.0" cy="198.1" r="0.57" fill="rgb(128,128,128)" opacity="0.85"/>
<circle cx="66.4" cy="195.2" r="0.45" fill="rgb(134,134,134)" opacity="0.85"/>
<circle cx="65.3" cy="196.1" r="0.59" fill="rgb(118,118,118)" opacity="0.85"/>
<circle cx="119.6" cy="194.4" r="0.64" fill="rgb(150,150,150)" opacity="0.85"/>
<circle cx="99.8" cy="192.8" r="0.68" fill="rgb(166,166,166)" opacity="0.85"/>
<circle cx="74.0" cy="196.3" r="0.63" fill="rgb(178,178,178)" opacity="0.85"/>
<circle cx="66.5" cy="197.2" r="0.79" fill="rgb(205,205,205)" opacity="0.85"/>
<circle cx="47.3" cy="193.0" r="0.58" fill="rgb(131,131,131)" opacity="0.85"/>
<circle cx="109.2" cy="195.2" r="0.61" fill="rgb(117,117,117)" opacity="0.85"/>
<circle cx="112.3" cy="198.6" r="0.77" fill="rgb(125,125,125)" opacity="0.85"/>
<circle cx="79.7" cy="198.2" r="0.68" fill="rgb(179,179,179)" opacity="0.85"/>
<circle cx="61.0" cy="197.6" r="0.65" fill="rgb(168,168,168)" opacity="0.85"/>
<circle cx="65.5" cy="196.8" r="0.76" fill="rgb(186,186,186)" opacity="0.85"/>
<circle cx="98.3" cy="194.5" r="0.56" fill="rgb(153,153,153)" opacity="0.85"/>
<circle cx="122.0" cy="198.1" r="0.54" fill="rgb(174,174,174)" opacity="0.85"/>
<circle cx="53.8" cy="197.3" r="0.64" fill="rgb(126,126,126)" opacity="0.85"/>
<circle cx="80.3" cy="190.3" r="0.66" fill="rgb(177,177,177)" opacity="0.85"/>
<circle cx="123.7" cy="196.5" r="0.79" fill="rgb(180,180,180)" opacity="0.85"/>
<circle cx="103.3" cy="192.8" r="0.53" fill="rgb(159,159,159)" opacity="0.85"/>
<circle cx="37.5" cy="198.4" r="0.80" fill="rgb(173,173,173)" opacity="0.85"/>
<circle cx="70.9" cy="194.3" r="0.45" fill="rgb(156,156,156)" opacity="0.85"/>
<circle cx="65.4" cy="196.3" r="0.72" fill="rgb(193,193,193)" opacity="0.85"/>
<circle cx="40.3" cy="197.0" r="0.60" fill="rgb(110,110,110)" opacity="0.85"/>
<circle cx="88.1" cy="198.3" r="0.62" fill="rgb(151,151,151)" opacity="0.85"/>
<circle cx="48.9" cy="194.1" r="0.66" fill="rgb(150,150,150)" opacity="0.85"/>
<circle cx="71.9" cy="198.1" r="0.54" fill="rgb(158,158,158)" opacity="0.85"/>
<circle cx="43.5" cy="195.6" r="0.78" fill="rgb(125,125,125)" opacity="0.85"/>
<circle cx="86.6" cy="198.6" r="0.60" fill="rgb(154,154,154)" opacity="0.85"/>
<circle cx="76.4" cy="196.1" r="0.61" fill="rgb(127,127,127)" opacity="0.85"/>
<circle cx="78.4" cy="195.0" r="0.57" fill="rgb(194,194,194)" opacity="0.85"/>
<circle cx="57.4" cy="194.0" r="0.48" fill="rgb(120,120,120)" opacity="0.85"/>
<circle cx="60.6" cy="197.0" r="0.70" fill="rgb(164,164,164)" opacity="0.85"/>
<circle cx="39.3" cy="194.9" r="0.54" fill="rgb(184,184,184)" opacity="0.85"/>
<circle cx="60.7" cy="191.1" r="0.71" fill="rgb(116,116,116)" opacity="0.85"/>
<circle cx="33.0" cy="195.8" r="0.78" fill="rgb(183,183,183)" opacity="0.85"/>
<circle cx="47.4" cy="193.2" r="0.61" fill="rgb(178,178,178)" opacity="0.85"/>
<circle cx="62.7" cy="191.1" r="0.53" fill="rgb(139,139,139)" opacity="0.85"/>
<circle cx="58.5" cy="198.0" r="0.60" fill="rgb(178,178,178)" opacity="0.85"/>
<circle cx="79.0" cy="192.8" r="0.79" fill="rgb(184,184,184)" opacity="0.85"/>
<circle cx="99.7" cy="198.4" r="0.79" fill="rgb(165,165,165)" opacity="0.85"/>
<circle cx="89.5" cy="192.8" r="0.78" fill="rgb(133,133,133)" opacity="0.85"/>
<circle cx="118.4" cy="192.0" r="0.79" fill="rgb(160,160,160)" opacity="0.85"/>
<circle cx="60.1" cy="197.0" r="0.60" fill="rgb(141,141,141)" opacity="0.85"/>
<circle cx="35.8" cy="196.6" r="0.56" fill="rgb(132,132,132)" opacity="0.85"/>
<circle cx="62.9" cy="191.0" r="0.49" fill="rgb(203,203,203)" opacity="0.85"/>
<circle cx="51.2" cy="195.5" r="0.64" fill="rgb(141,141,141)" opacity="0.85"/>
<circle cx="50.1" cy="196.8" r="0.52" fill="rgb(139,139,139)" opacity="0.85"/>
<circle cx="100.9" cy="195.6" r="0.52" fill="rgb(186,186,186)" opacity="0.85"/>
<circle cx="58.8" cy="198.3" r="0.79" fill="rgb(178,178,178)" opacity="0.85"/>
<circle cx="76.4" cy="197.3" r="0.72" fill="rgb(163,163,163)" opacity="0.85"/>
<circle cx="51.3" cy="190.3" r="0.61" fill="rgb(154,154,154)" opacity="0.85"/>
<circle cx="41.3" cy="192.7" r="0.68" fill="rgb(128,128,128)" opacity="0.85"/>
<circle cx="40.6" cy="192.9" r="0.70" fill="rgb(171,171,171)" opacity="0.85"/>
<circle cx="44.7" cy="196.7" r="0.68" fill="rgb(115,115,115)" opacity="0.85"/>
<circle cx="107.7" cy="198.2" r="0.84" fill="rgb(207,207,207)" opacity="0.85"/>
<circle cx="86.1" cy="194.6" r="0.67" fill="rgb(146,146,146)" opacity="0.85"/>
<circle cx="100.6" cy="198.6" r="0.67" fill="rgb(196,196,196)" opacity="0.85"/>
<circle cx="102.1" cy="196.7" r="0.55" fill="rgb(133,133,133)" opacity="0.85"/>
<circle cx="95.9" cy="196.6" r="0.58" fill="rgb(124,124,124)" opacity="0.85"/>
<circle cx="45.7" cy="196.0" r="0.61" fill="rgb(179,179,179)" opacity="0.85"/>
<circle cx="48.9" cy="195.4" r="0.74" fill="rgb(123,123,123)" opacity="0.85"/>
<circle cx="46.0" cy="198.1" r="0.67" fill="rgb(180,180,180)" opacity="0.85"/>
<circle cx="78.8" cy="198.4" r="0.72" fill="rgb(145,145,145)" opacity="0.85"/>
<circle cx="52.1" cy="197.6" r="0.64" fill="rgb(124,124,124)" opacity="0.85"/>
<circle cx="71.2" cy="191.0" r="0.56" fill="rgb(133,133,133)" opacity="0.85"/>
<circle cx="93.0" cy="197.4" r="0.74" fill="rgb(154,154,154)" opacity="0.85"/>
<circle cx="115.1" cy="194.4" r="0.48" fill="rgb(206,206,206)" opacity="0.85"/>
<circle cx="122.7" cy="198.1" r="0.51" fill="rgb(207,207,207)" opacity="0.85"/>
<circle cx="34.5" cy="189.9" r="0.60" fill="rgb(127,127,127)" opacity="0.85"/>
<circle cx="77.7" cy="196.4" r="0.62" fill="rgb(212,212,212)" opacity="0.85"/>
<circle cx="58.2" cy="192.2" r="0.47" fill="rgb(129,129,129)" opacity="0.85"/>
<circle cx="46.4" cy="197.6" r="0.50" fill="rgb(207,207,207)" opacity="0.85"/>
<circle cx="98.8" cy="194.4" r="0.60" fill="rgb(192,192,192)" opacity="0.85"/>
<circle cx="34.6" cy="194.0" r="0.53" fill="rgb(155,155,155)" opacity="0.85"/>
<circle cx="45.3" cy="194.0" r="0.62" fill="rgb(172,172,172)" opacity="0.85"/>
<circle cx="57.6" cy="196.9" r="0.69" fill="rgb(214,214,214)" opacity="0.85"/>
<circle cx="45.6" cy="195.0" r="0.51" fill="rgb(197,197,197)" opacity="0.85"/>
<circle cx="31.2" cy="193.6" r="0.73" fill="rgb(160,160,160)" opacity="0.85"/>
<circle cx="72.0" cy="193.2" r="0.56" fill="rgb(118,118,118)" opacity="0.85"/>
<circle cx="96.0" cy="198.5" r="0.74" fill="rgb(176,176,176)" opacity="0.85"/>
<circle cx="108.7" cy="198.5" r="0.61" fill="rgb(137,137,137)" opacity="0.85"/>
<circle cx="106.0" cy="194.7" r="0.70" fill="rgb(151,151,151)" opacity="0.85"/>
<circle cx="71.8" cy="198.7" r="0.54" fill="rgb(137,137,137)" opacity="0.85"/>
<circle cx="69.5" cy="197.1" r="0.50" fill="rgb(183,183,183)" opacity="0.85"/>
<circle cx="92.9" cy="198.2" r="0.46" fill="rgb(161,161,161)" opacity="0.85"/>
<circle cx="62.3" cy="195.4" r="0.71" fill="rgb(143,143,143)" opacity="0.85"/>
<circle cx="122.9" cy="192.2" r="0.66" fill="rgb(136,136,136)" opacity="0.85"/>
<circle cx="70.5" cy="198.4" r="0.63" fill="rgb(211,211,211)" opacity="0.85"/>
<circle cx="80.2" cy="191.5" r="0.51" fill="rgb(189,189,189)" opacity="0.85"/>
<circle cx="79.2" cy="195.8" r="0.60" fill="rgb(138,138,138)" opacity="0.85"/>
<circle cx="124.1" cy="195.9" r="0.77" fill="rgb(171,171,171)" opacity="0.85"/>
<circle cx="32.4" cy="195.0" r="0.73" fill="rgb(117,117,117)" opacity="0.85"/>
<circle cx="35.0" cy="197.1" r="0.65" fill="rgb(170,170,170)" opacity="0.85"/>
<circle cx="59.5" cy="196.5" r="0.47" fill="rgb(193,193,193)" opacity="0.85"/>
<circle cx="120.8" cy="198.3" r="0.61" fill="rgb(205,205,205)" opacity="0.85"/>
<circle cx="43.5" cy="191.1" r="0.65" fill="rgb(148,148,148)" opacity="0.85"/>
<circle cx="120.7" cy="198.4" r="0.65" fill="rgb(196,196,196)" opacity="0.85"/>
<circle cx="38.5" cy="197.0" r="0.61" fill="rgb(210,210,210)" opacity="0.85"/>
<circle cx="74.1" cy="198.6" r="0.64" fill="rgb(149,149,149)" opacity="0.85"/>
<circle cx="100.6" cy="198.2" r="0.75" fill="rgb(143,143,143)" opacity="0.85"/>
<circle cx="120.2" cy="197.7" r="0.69" fill="rgb(153,153,153)" opacity="0.85"/>
<circle cx="35.1" cy="196.6" r="0.49" fill="rgb(150,150,150)" opacity="0.85"/>
<circle cx="47.2" cy="197.4" r="0.68" fill="rgb(163,163,163)" opacity="0.85"/>
<circle cx="62.4" cy="198.5" r="0.78" fill="rgb(203,203,203)" opacity="0.85"/>
<circle cx="67.4" cy="196.6" r="0.54" fill="rgb(177,177,177)" opacity="0.85"/>
<circle cx="51.9" cy="195.2" r="0.62" fill="rgb(192,192,192)" opacity="0.85"/>
<circle cx="68.1" cy="195.9" r="0.62" fill="rgb(181,181,181)" opacity="0.85"/>
<circle cx="49.2" cy="194.9" r="0.51" fill="rgb(201,201,201)" opacity="0.85"/>
<circle cx="32.6" cy="194.5" r="0.49" fill="rgb(201,201,201)" opacity="0.85"/>
<circle cx="107.0" cy="195.8" r="0.50" fill="rgb(124,124,124)" opacity="0.85"/>
<circle cx="58.0" cy="192.1" r="0.85" fill="rgb(165,165,165)" opacity="0.85"/>
<circle cx="45.3" cy="195.0" r="0.58" fill="rgb(173,173,173)" opacity="0.85"/>
<circle cx="72.0" cy="197.4" r="0.69" fill="rgb(112,112,112)" opacity="0.85"/>
<circle cx="62.6" cy="197.6" r="0.56" fill="rgb(125,125,125)" opacity="0.85"/>
<circle cx="38.5" cy="197.5" r="0.80" fill="rgb(138,138,138)" opacity="0.85"/>
<circle cx="61.8" cy="198.3" r="0.57" fill="rgb(181,181,181)" opacity="0.85"/>
<circle cx="50.7" cy="195.5" r="0.45" fill="rgb(160,160,160)" opacity="0.85"/>
<circle cx="53.0" cy="197.3" r="0.48" fill="rgb(184,184,184)" opacity="0.85"/>
<circle cx="54.0" cy="197.9" r="0.81" fill="rgb(137,137,137)" opacity="0.85"/>
<circle cx="116.2" cy="198.1" r="0.55" fill="rgb(164,164,164)" opacity="0.85"/>
<circle cx="80.5" cy="195.4" r="0.53" fill="rgb(177,177,177)" opacity="0.85"/>
<circle cx="116.9" cy="194.7" r="0.62" fill="rgb(123,123,123)" opacity="0.85"/>
<circle cx="52.8" cy="195.1" r="0.46" fill="rgb(125,125,125)" opacity="0.85"/>
<circle cx="112.2" cy="197.9" r="0.47" fill="rgb(151,151,151)" opacity="0.85"/>
<circle cx="36.9" cy="195.5" r="0.64" fill="rgb(112,112,112)" opacity="0.85"/>
<circle cx="103.5" cy="193.8" r="0.45" fill="rgb(171,171,171)" opacity="0.85"/>
<circle cx="103.8" cy="192.8" r="0.60" fill="rgb(145,145,145)" opacity="0.85"/>
<circle cx="78.8" cy="196.7" r="0.73" fill="rgb(156,156,156)" opacity="0.85"/>
<circle cx="61.4" cy="195.7" r="0.64" fill="rgb(111,111,111)" opacity="0.85"/>
<circle cx="97.5" cy="190.5" r="0.71" fill="rgb(124,124,124)" opacity="0.85"/>
<circle cx="46.7" cy="191.0" r="0.48" fill="rgb(150,150,150)" opacity="0.85"/>
<circle cx="122.3" cy="196.7" r="0.71" fill="rgb(123,123,123)" opacity="0.85"/>
<circle cx="77.5" cy="196.0" r="0.85" fill="rgb(111,111,111)" opacity="0.85"/>
<circle cx="81.9" cy="192.3" r="0.72" fill="rgb(121,121,121)" opacity="0.85"/>
<circle cx="49.4" cy="198.3" r="0.46" fill="rgb(152,152,152)" opacity="0.85"/>
<circle cx="50.3" cy="198.5" r="0.81" fill="rgb(175,175,175)" opacity="0.85"/>
<circle cx="98.3" cy="196.3" r="0.57" fill="rgb(189,189,189)" opacity="0.85"/>
<circle cx="60.6" cy="192.8" r="0.66" fill="rgb(199,199,199)" opacity="0.85"/>
<circle cx="121.4" cy="195.3" r="0.73" fill="rgb(126,126,126)" opacity="0.85"/>
<circle cx="63.2" cy="196.5" r="0.50" fill="rgb(170,170,170)" opacity="0.85"/>
<circle cx="111.0" cy="197.5" r="0.67" fill="rgb(131,131,131)" opacity="0.85"/>
<circle cx="61.8" cy="197.5" r="0.66" fill="rgb(199,199,199)" opacity="0.85"/>
<circle cx="57.8" cy="193.9" r="0.57" fill="rgb(131,131,131)" opacity="0.85"/>
<circle cx="37.4" cy="194.1" r="0.63" fill="rgb(186,186,186)" opacity="0.85"/>
<circle cx="121.0" cy="193.2" r="0.70" fill="rgb(122,122,122)" opacity="0.85"/>
<circle cx="31.2" cy="196.3" r="0.71" fill="rgb(117,117,117)" opacity="0.85"/>
<circle cx="73.4" cy="195.2" r="0.81" fill="rgb(189,189,189)" opacity="0.85"/>
<circle cx="38.7" cy="193.3" r="0.63" fill="rgb(210,210,210)" opacity="0.85"/>
<circle cx="97.2" cy="197.4" r="0.83" fill="rgb(127,127,127)" opacity="0.85"/>
<circle cx="115.5" cy="190.1" r="0.70" fill="rgb(135,135,135)" opacity="0.85"/>
<circle cx="52.8" cy="198.1" r="0.71" fill="rgb(157,157,157)" opacity="0.85"/>
<circle cx="30.6" cy="196.0" r="0.81" fill="rgb(115,115,115)" opacity="0.85"/>
<circle cx="47.2" cy="195.5" r="0.79" fill="rgb(149,149,149)" opacity="0.85"/>
<circle cx="79.1" cy="198.4" r="0.46" fill="rgb(180,180,180)" opacity="0.85"/>
<circle cx="112.9" cy="193.2" r="0.47" fill="rgb(132,132,132)" opacity="0.85"/>
<circle cx="45.3" cy="192.9" r="0.78" fill="rgb(184,184,184)" opacity="0.85"/>
<circle cx="75.2" cy="195.7" r="0.75" fill="rgb(111,111,111)" opacity="0.85"/>
<circle cx="51.9" cy="198.0" r="0.67" fill="rgb(146,146,146)" opacity="0.85"/>
<circle cx="63.3" cy="196.9" r="0.51" fill="rgb(158,158,158)" opacity="0.85"/>
<circle cx="70.7" cy="198.4" r="0.79" fill="rgb(161,161,161)" opacity="0.85"/>
<circle cx="55.5" cy="198.1" r="0.84" fill="rgb(133,133,133)" opacity="0.85"/>
<circle cx="105.3" cy="198.5" r="0.80" fill="rgb(198,198,198)" opacity="0.85"/>
<circle cx="109.7" cy="197.3" r="0.52" fill="rgb(157,157,157)" opacity="0.85"/>
<circle cx="115.5" cy="196.5" r="0.82" fill="rgb(112,112,112)" opacity="0.85"/>
<circle cx="95.7" cy="195.9" r="0.83" fill="rgb(205,205,205)" opacity="0.85"/>
<circle cx="66.4" cy="197.2" r="0.54" fill="rgb(130,130,130)" opacity="0.85"/>
<circle cx="113.2" cy="194.8" r="0.56" fill="rgb(172,172,172)" opacity="0.85"/>
<circle cx="43.4" cy="190.6" r="0.80" fill="rgb(207,207,207)" opacity="0.85"/>
<circle cx="113.3" cy="193.1" r="0.85" fill="rgb(142,142,142)" opacity="0.85"/>
<circle cx="101.7" cy="197.7" r="0.49" fill="rgb(193,193,193)" opacity="0.85"/>
<circle cx="64.4" cy="197.4" r="0.72" fill="rgb(199,199,199)" opacity="0.85"/>
<circle cx="65.9" cy="196.3" r="0.59" fill="rgb(192,192,192)" opacity="0.85"/>
<circle cx="37.6" cy="197.0" r="0.75" fill="rgb(187,187,187)" opacity="0.85"/>
<circle cx="56.6" cy="194.1" r="0.61" fill="rgb(215,215,215)" opacity="0.85"/>
<circle cx="50.7" cy="192.6" r="0.63" fill="rgb(143,143,143)" opacity="0.85"/>
<circle cx="122.6" cy="195.4" r="0.71" fill="rgb(112,112,112)" opacity="0.85"/>
<circle cx="33.4" cy="195.0" r="0.83" fill="rgb(184,184,184)" opacity="0.85"/>
<circle cx="59.7" cy="194.0" r="0.55" fill="rgb(126,126,126)" opacity="0.85"/>
<circle cx="74.8" cy="196.7" r="0.55" fill="rgb(177,177,177)" opacity="0.85"/>
<circle cx="93.9" cy="193.6" r="0.48" fill="rgb(171,171,171)" opacity="0.85"/>
<circle cx="107.3" cy="195.5" r="0.80" fill="rgb(172,172,172)" opacity="0.85"/>
<circle cx="82.8" cy="198.1" r="0.58" fill="rgb(160,160,160)" opacity="0.85"/>
<circle cx="106.8" cy="192.2" r="0.79" fill="rgb(161,161,161)" opacity="0.85"/>
<circle cx="74.0" cy="194.6" r="0.76" fill="rgb(166,166,166)" opacity="0.85"/>
<circle cx="41.3" cy="192.8" r="0.67" fill="rgb(185,185,185)" opacity="0.85"/>
<circle cx="56.5" cy="197.4" r="0.70" fill="rgb(196,196,196)" opacity="0.85"/>
<circle cx="60.7" cy="190.1" r="0.45" fill="rgb(183,183,183)" opacity="0.85"/>
<circle cx="48.9" cy="193.5" r="0.59" fill="rgb(135,135,135)" opacity="0.85"/>
<circle cx="80.5" cy="196.6" r="0.63" fill="rgb(174,174,174)" opacity="0.85"/>
<circle cx="49.9" cy="196.5" r="0.49" fill="rgb(138,138,138)" opacity="0.85"/>
<circle cx="38.8" cy="194.2" r="0.78" fill="rgb(196,196,196)" opacity="0.85"/>
<circle cx="49.0" cy="198.3" r="0.48" fill="rgb(154,154,154)" opacity="0.85"/>
<circle cx="76.0" cy="198.0" r="0.71" fill="rgb(138,138,138)" opacity="0.85"/>
<circle cx="56.5" cy="198.4" r="0.70" fill="rgb(139,139,139)" opacity="0.85"/>
<circle cx="107.5" cy="198.4" r="0.51" fill="rgb(132,132,132)" opacity="0.85"/>
<circle cx="88.7" cy="193.8" r="0.80" fill="rgb(140,140,140)" opacity="0.85"/>
<circle cx="95.9" cy="196.4" r="0.57" fill="rgb(113,113,113)" opacity="0.85"/>
<circle cx="71.5" cy="197.5" r="0.84" fill="rgb(161,161,161)" opacity="0.85"/>
<circle cx="114.1" cy="192.4" r="0.56" fill="rgb(177,177,177)" opacity="0.85"/>
<circle cx="42.3" cy="192.4" r="0.84" fill="rgb(212,212,212)" opacity="0.85"/>
<circle cx="33.0" cy="193.1" r="0.62" fill="rgb(179,179,179)" opacity="0.85"/>
<circle cx="100.3" cy="191.7" r="0.77" fill="rgb(113,113,113)" opacity="0.85"/>
<circle cx="47.0" cy="195.2" r="0.64" fill="rgb(152,152,152)" opacity="0.85"/>
<circle cx="96.0" cy="193.1" r="0.77" fill="rgb(123,123,123)" opacity="0.85"/>
<circle cx="64.2" cy="198.6" r="0.58" fill="rgb(155,155,155)" opacity="0.85"/>
<circle cx="36.9" cy="198.6" r="0.72" fill="rgb(146,146,146)" opacity="0.85"/>
<circle cx="88.7" cy="198.7" r="0.62" fill="rgb(215,215,215)" opacity="0.85"/>
<circle cx="114.5" cy="196.9" r="0.59" fill="rgb(180,180,180)" opacity="0.85"/>
<circle cx="91.4" cy="193.6" r="0.67" fill="rgb(148,148,148)" opacity="0.85"/>
<circle cx="89.3" cy="197.4" r="0.68" fill="rgb(198,198,198)" opacity="0.85"/>
<circle cx="76.4" cy="198.3" r="0.83" fill="rgb(149,149,149)" opacity="0.85"/>
<circle cx="79.8" cy="194.6" r="0.54" fill="rgb(134,134,134)" opacity="0.85"/>
<circle cx="98.3" cy="191.2" r="0.81" fill="rgb(191,191,191)" opacity="0.85"/>
<circle cx="43.9" cy="195.0" r="0.45" fill="rgb(182,182,182)" opacity="0.85"/>
<circle cx="46.7" cy="196.7" r="0.62" fill="rgb(200,200,200)" opacity="0.85"/>
<circle cx="78.6" cy="196.5" r="0.77" fill="rgb(158,158,158)" opacity="0.85"/>
<circle cx="58.9" cy="195.2" r="0.58" fill="rgb(205,205,205)" opacity="0.85"/>
<circle cx="40.4" cy="196.7" r="0.55" fill="rgb(164,164,164)" opacity="0.85"/>
<circle cx="74.0" cy="197.5" r="0.73" fill="rgb(182,182,182)" opacity="0.85"/>
<circle cx="111.7" cy="198.2" r="0.74" fill="rgb(158,158,158)" opacity="0.85"/>
<circle cx="50.3" cy="198.6" r="0.84" fill="rgb(184,184,184)" opacity="0.85"/>
<circle cx="94.1" cy="198.0" r="0.74" fill="rgb(134,134,134)" opacity="0.85"/>
<circle cx="34.4" cy="196.6" r="0.60" fill="rgb(212,212,212)" opacity="0.85"/>
<circle cx="44.9" cy="191.1" r="0.63" fill="rgb(162,162,162)" opacity="0.85"/>
<circle cx="53.4" cy="194.5" r="0.60" fill="rgb(192,192,192)" opacity="0.85"/>
<circle cx="93.9" cy="194.8" r="0.74" fill="rgb(211,211,211)" opacity="0.85"/>
<circle cx="63.0" cy="196.8" r="0.71" fill="rgb(116,116,116)" opacity="0.85"/>
<circle cx="85.5" cy="193.9" r="0.60" fill="rgb(136,136,136)" opacity="0.85"/>
<circle cx="31.2" cy="197.0" r="0.48" fill="rgb(170,170,170)" opacity="0.85"/>
<circle cx="89.5" cy="192.9" r="0.63" fill="rgb(148,148,148)" opacity="0.85"/>
<circle cx="121.2" cy="194.7" r="0.51" fill="rgb(141,141,141)" opacity="0.85"/>
<circle cx="101.5" cy="198.3" r="0.55" fill="rgb(124,124,124)" opacity="0.85"/>
<circle cx="32.2" cy="197.1" r="0.67" fill="rgb(211,211,211)" opacity="0.85"/>
<circle cx="69.2" cy="196.9" r="0.71" fill="rgb(170,170,170)" opacity="0.85"/>
<circle cx="96.3" cy="193.0" r="0.52" fill="rgb(150,150,150)" opacity="0.85"/>
<circle cx="119.4" cy="195.5" r="0.81" fill="rgb(122,122,122)" opacity="0.85"/>
<circle cx="47.2" cy="193.0" r="0.54" fill="rgb(154,154,154)" opacity="0.85"/>
<circle cx="112.4" cy="195.5" r="0.64" fill="rgb(189,189,189)" opacity="0.85"/>
<circle cx="57.7" cy="198.4" r="0.78" fill="rgb(123,123,123)" opacity="0.85"/>
<circle cx="114.5" cy="197.4" r="0.53" fill="rgb(192,192,192)" opacity="0.85"/>
<circle cx="46.5" cy="193.1" r="0.66" fill="rgb(183,183,183)" opacity="0.85"/>
<circle cx="48.9" cy="197.0" r="0.54" fill="rgb(206,206,206)" opacity="0.85"/>
<circle cx="93.0" cy="194.2" r="0.77" fill="rgb(141,141,141)" opacity="0.85"/>
<circle cx="117.7" cy="196.2" r="0.58" fill="rgb(157,157,157)" opacity="0.85"/>
<circle cx="58.9" cy="196.3" r="0.79" fill="rgb(122,122,122)" opacity="0.85"/>
<circle cx="96.7" cy="194.5" r="0.82" fill="rgb(184,184,184)" opacity="0.85"/>
<circle cx="51.7" cy="194.3" r="0.81" fill="rgb(198,198,198)" opacity="0.85"/>
<circle cx="64.9" cy="190.7" r="0.65" fill="rgb(175,175,175)" opacity="0.85"/>
<circle cx="47.6" cy="198.5" r="0.78" fill="rgb(117,117,117)" opacity="0.85"/>
<circle cx="56.2" cy="197.1" r="0.52" fill="rgb(143,143,143)" opacity="0.85"/>
<circle cx="72.1" cy="198.0" r="0.84" fill="rgb(176,176,176)" opacity="0.85"/>
<circle cx="86.3" cy="194.4" r="0.62" fill="rgb(151,151,151)" opacity="0.85"/>
<circle cx="52.3" cy="198.1" r="0.85" fill="rgb(182,182,182)" opacity="0.85"/>
<circle cx="40.7" cy="198.6" r="0.55" fill="rgb(166,166,166)" opacity="0.85"/>
<circle cx="60.6" cy="196.6" r="0.48" fill="rgb(204,204,204)" opacity="0.85"/>
<circle cx="32.1" cy="198.3" r="0.83" fill="rgb(177,177,177)" opacity="0.85"/>
<circle cx="98.2" cy="195.9" r="0.56" fill="rgb(140,140,140)" opacity="0.85"/>
<circle cx="35.8" cy="196.7" r="0.67" fill="rgb(174,174,174)" opacity="0.85"/>
<circle cx="57.0" cy="197.9" r="0.46" fill="rgb(155,155,155)" opacity="0.85"/>
<circle cx="99.8" cy="193.6" r="0.80" fill="rgb(187,187,187)" opacity="0.85"/>
<circle cx="69.5" cy="191.1" r="0.76" fill="rgb(176,176,176)" opacity="0.85"/>
<circle cx="53.0" cy="195.9" r="0.66" fill="rgb(143,143,143)" opacity="0.85"/>
</g>
<line x1="31.0" y1="180.6" x2="123.7" y2="180.6" stroke="#ababab" stroke-width="1"/>
<rect x="30.9" y="129.6" width="92.9" height="68.90000000000002" fill="none" stroke="#161616" stroke-width="0.8"/>
<text transform="translate(34.40,140.70) scale(1.04,1)" font-size="10.0" font-weight="bold" fill="#ececec">t = 0h</text>
<clipPath id="cp11"><rect x="127.4" y="129.6" width="92.9" height="68.90000000000002"/></clipPath>
<rect x="127.0" y="129.2" width="93.7" height="69.70000000000002" fill="#1c1c1c"/>
<g clip-path="url(#cp11)">
<rect x="127.0" y="129.2" width="93.7" height="69.70000000000002" fill="#2b2b2b"/>
<circle cx="131.3" cy="195.1" r="0.58" fill="rgb(197,197,197)"/>
<circle cx="183.0" cy="196.4" r="0.58" fill="rgb(202,202,202)"/>
<circle cx="190.4" cy="192.7" r="0.61" fill="rgb(179,179,179)"/>
<circle cx="144.0" cy="197.6" r="0.63" fill="rgb(163,163,163)"/>
<circle cx="160.4" cy="195.2" r="0.49" fill="rgb(176,176,176)"/>
<circle cx="182.3" cy="197.9" r="0.57" fill="rgb(123,123,123)"/>
<circle cx="151.8" cy="198.1" r="0.53" fill="rgb(157,157,157)"/>
<circle cx="155.4" cy="194.7" r="0.43" fill="rgb(182,182,182)"/>
<circle cx="154.1" cy="195.4" r="0.68" fill="rgb(148,148,148)"/>
<circle cx="187.5" cy="197.4" r="0.66" fill="rgb(139,139,139)"/>
<circle cx="171.7" cy="197.4" r="0.41" fill="rgb(121,121,121)"/>
<circle cx="172.9" cy="198.0" r="0.48" fill="rgb(174,174,174)"/>
<circle cx="181.2" cy="197.5" r="0.48" fill="rgb(168,168,168)"/>
<circle cx="169.8" cy="193.8" r="0.58" fill="rgb(201,201,201)"/>
<circle cx="139.4" cy="194.3" r="5.51" fill="#9a9a9a" opacity="0.45" filter="url(#blur1)"/>
<circle cx="139.4" cy="194.3" r="2.9" fill="#fafafa" filter="url(#blur05)"/>
<circle cx="172.1" cy="197.6" r="4.56" fill="#9a9a9a" opacity="0.45" filter="url(#blur1)"/>
<circle cx="172.1" cy="197.6" r="2.4" fill="#fafafa" filter="url(#blur05)"/>
<circle cx="186.5" cy="198.0" r="3.42" fill="#9a9a9a" opacity="0.45" filter="url(#blur1)"/>
<circle cx="186.5" cy="198.0" r="1.8" fill="#fafafa" filter="url(#blur05)"/>
<circle cx="211.5" cy="197.6" r="4.37" fill="#9a9a9a" opacity="0.45" filter="url(#blur1)"/>
<circle cx="211.5" cy="197.6" r="2.3" fill="#fafafa" filter="url(#blur05)"/>
</g>
<line x1="127.5" y1="180.6" x2="220.2" y2="180.6" stroke="#ababab" stroke-width="1"/>
<rect x="127.4" y="129.6" width="92.9" height="68.90000000000002" fill="none" stroke="#161616" stroke-width="0.8"/>
<text transform="translate(130.60,140.70) scale(1.04,1)" font-size="10.0" font-weight="bold" fill="#ececec">4h</text>
<clipPath id="cp12"><rect x="223.6" y="129.6" width="92.9" height="68.90000000000002"/></clipPath>
<rect x="223.2" y="129.2" width="93.7" height="69.70000000000002" fill="#1c1c1c"/>
<g clip-path="url(#cp12)">
<rect x="223.2" y="129.2" width="93.7" height="69.70000000000002" fill="#2b2b2b"/>
<circle cx="258.5" cy="184.3" r="3" fill="#555" opacity="0.5" filter="url(#blur1)"/>
<circle cx="300.2" cy="197.2" r="0.47" fill="rgb(194,194,194)"/>
<circle cx="299.1" cy="197.8" r="0.42" fill="rgb(164,164,164)"/>
<circle cx="314.7" cy="193.3" r="0.51" fill="rgb(153,153,153)"/>
<circle cx="254.1" cy="198.3" r="0.40" fill="rgb(147,147,147)"/>
<circle cx="226.9" cy="195.9" r="0.49" fill="rgb(203,203,203)"/>
<circle cx="313.0" cy="197.6" r="0.44" fill="rgb(133,133,133)"/>
<circle cx="287.7" cy="197.6" r="0.67" fill="rgb(136,136,136)"/>
<circle cx="295.8" cy="197.2" r="0.58" fill="rgb(201,201,201)"/>
<circle cx="242.3" cy="197.1" r="0.49" fill="rgb(182,182,182)"/>
<circle cx="243.8" cy="195.3" r="0.50" fill="rgb(189,189,189)"/>
<circle cx="252.7" cy="195.0" r="0.61" fill="rgb(165,165,165)"/>
<circle cx="273.2" cy="194.4" r="0.62" fill="rgb(209,209,209)"/>
<circle cx="258.8" cy="196.8" r="0.67" fill="rgb(200,200,200)"/>
<circle cx="291.0" cy="196.5" r="0.58" fill="rgb(173,173,173)"/>
<circle cx="249.8" cy="190.8" r="5.51" fill="#9a9a9a" opacity="0.45" filter="url(#blur1)"/>
<circle cx="249.8" cy="190.8" r="2.9" fill="#fafafa" filter="url(#blur05)"/>
<circle cx="261.4" cy="196.6" r="5.13" fill="#9a9a9a" opacity="0.45" filter="url(#blur1)"/>
<circle cx="261.4" cy="196.6" r="2.7" fill="#fafafa" filter="url(#blur05)"/>
<circle cx="282.2" cy="193.3" r="3.80" fill="#9a9a9a" opacity="0.45" filter="url(#blur1)"/>
<circle cx="282.2" cy="193.3" r="2.0" fill="#fafafa" filter="url(#blur05)"/>
</g>
<line x1="223.7" y1="180.6" x2="316.4" y2="180.6" stroke="#ababab" stroke-width="1"/>
<rect x="223.6" y="129.6" width="92.9" height="68.90000000000002" fill="none" stroke="#161616" stroke-width="0.8"/>
<text transform="translate(226.80,140.70) scale(1.04,1)" font-size="10.0" font-weight="bold" fill="#ececec">8h</text>
<clipPath id="cp13"><rect x="320.09999999999997" y="129.6" width="92.9" height="68.90000000000002"/></clipPath>
<rect x="319.7" y="129.2" width="93.7" height="69.70000000000002" fill="#1c1c1c"/>
<g clip-path="url(#cp13)">
<rect x="319.7" y="129.2" width="93.7" height="69.70000000000002" fill="#2c2c2c"/>
<circle cx="363.3" cy="198.0" r="0.53" fill="rgb(121,121,121)"/>
<circle cx="361.2" cy="197.1" r="0.66" fill="rgb(214,214,214)"/>
<circle cx="368.8" cy="194.2" r="0.41" fill="rgb(165,165,165)"/>
<circle cx="344.7" cy="193.1" r="0.41" fill="rgb(135,135,135)"/>
<circle cx="326.0" cy="197.7" r="0.58" fill="rgb(179,179,179)"/>
<circle cx="386.1" cy="195.2" r="0.40" fill="rgb(160,160,160)"/>
<circle cx="396.7" cy="197.1" r="0.59" fill="rgb(194,194,194)"/>
<circle cx="348.9" cy="196.8" r="0.57" fill="rgb(215,215,215)"/>
<circle cx="342.5" cy="197.4" r="0.63" fill="rgb(165,165,165)"/>
<circle cx="339.7" cy="195.5" r="0.55" fill="rgb(216,216,216)"/>
<circle cx="382.7" cy="196.3" r="0.44" fill="rgb(147,147,147)"/>
<circle cx="391.3" cy="195.6" r="0.48" fill="rgb(211,211,211)"/>
<circle cx="391.7" cy="196.9" r="0.65" fill="rgb(185,185,185)"/>
<circle cx="402.1" cy="193.4" r="0.60" fill="rgb(173,173,173)"/>
<circle cx="351.2" cy="195.6" r="4.94" fill="#9a9a9a" opacity="0.45" filter="url(#blur1)"/>
<circle cx="351.2" cy="195.6" r="2.6" fill="#fafafa" filter="url(#blur05)"/>
<circle cx="347.5" cy="197.5" r="3.42" fill="#9a9a9a" opacity="0.45" filter="url(#blur1)"/>
<circle cx="347.5" cy="197.5" r="1.8" fill="#fafafa" filter="url(#blur05)"/>
<circle cx="394.9" cy="190.8" r="3.80" fill="#9a9a9a" opacity="0.45" filter="url(#blur1)"/>
<circle cx="394.9" cy="190.8" r="2.0" fill="#fafafa" filter="url(#blur05)"/>
<circle cx="320.8" cy="196" r="2.28" fill="#9a9a9a" opacity="0.45" filter="url(#blur1)"/>
<circle cx="320.8" cy="196" r="1.2" fill="#fafafa" filter="url(#blur05)"/>
</g>
<line x1="320.2" y1="180.6" x2="412.9" y2="180.6" stroke="#ababab" stroke-width="1"/>
<rect x="320.09999999999997" y="129.6" width="92.9" height="68.90000000000002" fill="none" stroke="#161616" stroke-width="0.8"/>
<text transform="translate(323.60,140.70) scale(1.04,1)" font-size="10.0" font-weight="bold" fill="#ececec">12h</text>
<clipPath id="cp14"><rect x="416.29999999999995" y="129.6" width="92.9" height="68.90000000000002"/></clipPath>
<rect x="415.9" y="129.2" width="93.7" height="69.70000000000002" fill="#1c1c1c"/>
<g clip-path="url(#cp14)">
<rect x="415.9" y="129.2" width="93.7" height="69.70000000000002" fill="#2d2d2d"/>
<circle cx="480.7" cy="198.2" r="0.67" fill="rgb(131,131,131)"/>
<circle cx="424.6" cy="197.5" r="0.62" fill="rgb(150,150,150)"/>
<circle cx="498.3" cy="198.4" r="0.68" fill="rgb(169,169,169)"/>
<circle cx="478.1" cy="196.8" r="0.70" fill="rgb(210,210,210)"/>
<circle cx="491.4" cy="197.2" r="0.53" fill="rgb(200,200,200)"/>
<circle cx="420.9" cy="193.5" r="0.44" fill="rgb(159,159,159)"/>
<circle cx="472.3" cy="196.4" r="0.60" fill="rgb(151,151,151)"/>
<circle cx="468.1" cy="196.4" r="0.61" fill="rgb(186,186,186)"/>
<circle cx="495.8" cy="196.0" r="0.42" fill="rgb(190,190,190)"/>
<circle cx="501.3" cy="196.0" r="0.53" fill="rgb(200,200,200)"/>
<circle cx="425.9" cy="195.9" r="0.50" fill="rgb(161,161,161)"/>
<circle cx="474.3" cy="197.9" r="0.58" fill="rgb(171,171,171)"/>
<circle cx="430.3" cy="195.7" r="0.56" fill="rgb(212,212,212)"/>
<circle cx="427.9" cy="195.3" r="0.51" fill="rgb(185,185,185)"/>
<circle cx="446.7" cy="196.0" r="5.70" fill="#9a9a9a" opacity="0.45" filter="url(#blur1)"/>
<circle cx="446.7" cy="196.0" r="3.0" fill="#fafafa" filter="url(#blur05)"/>
<rect x="493.8" y="193.9" width="11.2" height="1.7" fill="#f0f0f0"/>
</g>
<line x1="416.4" y1="180.6" x2="509.09999999999997" y2="180.6" stroke="#ababab" stroke-width="1"/>
<rect x="416.29999999999995" y="129.6" width="92.9" height="68.90000000000002" fill="none" stroke="#161616" stroke-width="0.8"/>
<text transform="translate(419.70,140.70) scale(1.04,1)" font-size="10.0" font-weight="bold" fill="#ececec">16h</text>
<text transform="translate(12.6,237.8) scale(0.82,1)" font-size="17">B</text>
<line x1="85.2" y1="243.5" x2="99.8" y2="243.5" stroke="#b20e3a" stroke-width="1.4"/>
<text x="104.5" y="246.7" font-size="10.8" text-anchor="start" fill="#000" >Control</text>
<line x1="156.4" y1="243.5" x2="170.3" y2="243.5" stroke="#63a83a" stroke-width="1.4"/>
<text x="175.2" y="246.7" font-size="10.5" text-anchor="start" fill="#000" >anti-CD18</text>
<line x1="71.4" y1="266.3" x2="71.4" y2="366.2" stroke="#000" stroke-width="1.3"/>
<line x1="66.8" y1="365.6" x2="240.4" y2="365.6" stroke="#000" stroke-width="1.4"/>
<line x1="66.8" y1="365.60" x2="71.4" y2="365.60" stroke="#000" stroke-width="1.2"/>
<text x="62.4" y="369.5" font-size="11" text-anchor="end" fill="#000" >0</text>
<line x1="66.8" y1="341.70" x2="71.4" y2="341.70" stroke="#000" stroke-width="1.2"/>
<text x="62.4" y="345.6" font-size="11" text-anchor="end" fill="#000" >10</text>
<line x1="66.8" y1="317.80" x2="71.4" y2="317.80" stroke="#000" stroke-width="1.2"/>
<text x="62.4" y="321.7" font-size="11" text-anchor="end" fill="#000" >20</text>
<line x1="66.8" y1="293.90" x2="71.4" y2="293.90" stroke="#000" stroke-width="1.2"/>
<text x="62.4" y="297.8" font-size="11" text-anchor="end" fill="#000" >30</text>
<line x1="66.8" y1="270.00" x2="71.4" y2="270.00" stroke="#000" stroke-width="1.2"/>
<text x="62.4" y="273.9" font-size="11" text-anchor="end" fill="#000" >40</text>
<text x="76.5" y="380.7" font-size="11" text-anchor="middle" fill="#000" >0</text>
<text x="116.38" y="380.7" font-size="11" text-anchor="middle" fill="#000" >4</text>
<text x="156.26" y="380.7" font-size="11" text-anchor="middle" fill="#000" >8</text>
<text x="196.14000000000001" y="380.7" font-size="11" text-anchor="middle" fill="#000" >12</text>
<text x="236.02" y="380.7" font-size="11" text-anchor="middle" fill="#000" >16</text>
<text x="156.2" y="400.3" font-size="13.3" text-anchor="middle" fill="#000" >Time (hours)</text>
<text transform="translate(23,315.5) rotate(-90)" font-size="13.8" text-anchor="middle">Number neutrophils</text>
<text transform="translate(40.5,315.9) rotate(-90)" font-size="13.8" text-anchor="middle">outside lumen</text>
<polyline points="76.50,365.60 86.47,357.71 96.44,346.72 106.41,335.96 116.38,325.45 126.35,319.95 136.32,307.05 146.29,290.55 156.26,293.42 166.23,281.95 176.20,276.21 186.17,279.08 196.14,273.35 206.11,276.21 216.08,276.69 226.05,283.38 236.02,283.38" fill="none" stroke="#ae0d37" stroke-width="1.5" stroke-linejoin="round"/>
<polyline points="76.50,365.60 86.47,365.12 96.44,364.41 106.41,357.71 116.38,355.32 126.35,354.13 136.32,350.06 146.29,347.20 156.26,344.09 166.23,341.94 176.20,339.07 186.17,340.50 196.14,338.35 206.11,338.35 216.08,338.35 226.05,336.20 236.02,336.20" fill="none" stroke="#63a83a" stroke-width="1.5" stroke-linejoin="round"/>
<line x1="76.50" y1="357.30" x2="76.50" y2="365.60" stroke="#111" stroke-width="1.35"/><line x1="75.20" y1="357.60" x2="77.80" y2="357.60" stroke="#111" stroke-width="1.3"/><line x1="75.20" y1="365.30" x2="77.80" y2="365.30" stroke="#111" stroke-width="1.3"/>
<line x1="116.38" y1="316.40" x2="116.38" y2="334.10" stroke="#111" stroke-width="1.35"/><line x1="115.08" y1="316.70" x2="117.68" y2="316.70" stroke="#111" stroke-width="1.3"/><line x1="115.08" y1="333.80" x2="117.68" y2="333.80" stroke="#111" stroke-width="1.3"/>
<line x1="156.26" y1="284.70" x2="156.26" y2="302.00" stroke="#111" stroke-width="1.35"/><line x1="154.96" y1="285.00" x2="157.56" y2="285.00" stroke="#111" stroke-width="1.3"/><line x1="154.96" y1="301.70" x2="157.56" y2="301.70" stroke="#111" stroke-width="1.3"/>
<line x1="196.14" y1="264.80" x2="196.14" y2="281.80" stroke="#111" stroke-width="1.35"/><line x1="194.84" y1="265.10" x2="197.44" y2="265.10" stroke="#111" stroke-width="1.3"/><line x1="194.84" y1="281.50" x2="197.44" y2="281.50" stroke="#111" stroke-width="1.3"/>
<line x1="236.02" y1="274.60" x2="236.02" y2="291.00" stroke="#111" stroke-width="1.35"/><line x1="234.72" y1="274.90" x2="237.32" y2="274.90" stroke="#111" stroke-width="1.3"/><line x1="234.72" y1="290.70" x2="237.32" y2="290.70" stroke="#111" stroke-width="1.3"/>
<line x1="116.38" y1="346.50" x2="116.38" y2="365.60" stroke="#111" stroke-width="1.35"/><line x1="115.08" y1="346.80" x2="117.68" y2="346.80" stroke="#111" stroke-width="1.3"/><line x1="115.08" y1="365.30" x2="117.68" y2="365.30" stroke="#111" stroke-width="1.3"/>
<line x1="156.26" y1="335.30" x2="156.26" y2="353.30" stroke="#111" stroke-width="1.35"/><line x1="154.96" y1="335.60" x2="157.56" y2="335.60" stroke="#111" stroke-width="1.3"/><line x1="154.96" y1="353.00" x2="157.56" y2="353.00" stroke="#111" stroke-width="1.3"/>
<line x1="196.14" y1="328.60" x2="196.14" y2="347.40" stroke="#111" stroke-width="1.35"/><line x1="194.84" y1="328.90" x2="197.44" y2="328.90" stroke="#111" stroke-width="1.3"/><line x1="194.84" y1="347.10" x2="197.44" y2="347.10" stroke="#111" stroke-width="1.3"/>
<line x1="236.02" y1="327.50" x2="236.02" y2="346.00" stroke="#111" stroke-width="1.35"/><line x1="234.72" y1="327.80" x2="237.32" y2="327.80" stroke="#111" stroke-width="1.3"/><line x1="234.72" y1="345.70" x2="237.32" y2="345.70" stroke="#111" stroke-width="1.3"/>
<path d="M153.91,275.50L153.91,279.70M155.73,276.55L152.09,278.65M155.73,278.65L152.09,276.55" stroke="#333" stroke-width="1.0" fill="none"/><path d="M158.61,275.50L158.61,279.70M160.43,276.55L156.79,278.65M160.43,278.65L156.79,276.55" stroke="#333" stroke-width="1.0" fill="none"/>
<path d="M190.39,255.80L190.39,260.00M192.21,256.85L188.57,258.95M192.21,258.95L188.57,256.85" stroke="#333" stroke-width="1.0" fill="none"/><path d="M195.09,255.80L195.09,260.00M196.91,256.85L193.27,258.95M196.91,258.95L193.27,256.85" stroke="#333" stroke-width="1.0" fill="none"/><path d="M199.79,255.80L199.79,260.00M201.61,256.85L197.97,258.95M201.61,258.95L197.97,256.85" stroke="#333" stroke-width="1.0" fill="none"/><path d="M204.49,255.80L204.49,260.00M206.31,256.85L202.67,258.95M206.31,258.95L202.67,256.85" stroke="#333" stroke-width="1.0" fill="none"/>
<path d="M232.62,264.90L232.62,269.10M234.44,265.95L230.80,268.05M234.44,268.05L230.80,265.95" stroke="#333" stroke-width="1.0" fill="none"/><path d="M237.32,264.90L237.32,269.10M239.14,265.95L235.50,268.05M239.14,268.05L235.50,265.95" stroke="#333" stroke-width="1.0" fill="none"/><path d="M242.02,264.90L242.02,269.10M243.84,265.95L240.20,268.05M243.84,268.05L240.20,265.95" stroke="#333" stroke-width="1.0" fill="none"/>
<text transform="translate(269.6,237.9) scale(0.86,1)" font-size="17.2">C</text>
<rect x="358.75" y="253.75" width="4.3" height="4.3" fill="#a6032f"/>
<text x="368" y="259.25" font-size="10.9" text-anchor="start" fill="#000" >Control</text>
<rect x="420.5" y="253.75" width="4.5" height="4.3" fill="#6ca844"/>
<text x="429.5" y="259.25" font-size="10.4" text-anchor="start" fill="#000" >anti-CD18</text>
<line x1="336.2" y1="266.75" x2="336.2" y2="366.1" stroke="#000" stroke-width="1.3"/>
<line x1="331.3" y1="365.5" x2="503.6" y2="365.5" stroke="#000" stroke-width="1.3"/>
<line x1="331.3" y1="365.50" x2="336.2" y2="365.50" stroke="#000" stroke-width="1.2"/>
<text x="327.0" y="369.4" font-size="11" text-anchor="end" fill="#000" >0</text>
<line x1="331.3" y1="344.25" x2="336.2" y2="344.25" stroke="#000" stroke-width="1.2"/>
<text x="327.0" y="348.15" font-size="11" text-anchor="end" fill="#000" >40</text>
<line x1="331.3" y1="323.00" x2="336.2" y2="323.00" stroke="#000" stroke-width="1.2"/>
<text x="327.0" y="326.9" font-size="11" text-anchor="end" fill="#000" >80</text>
<line x1="331.3" y1="301.75" x2="336.2" y2="301.75" stroke="#000" stroke-width="1.2"/>
<text x="327.0" y="305.65" font-size="11" text-anchor="end" fill="#000" >120</text>
<line x1="331.3" y1="280.50" x2="336.2" y2="280.50" stroke="#000" stroke-width="1.2"/>
<text x="327.0" y="284.4" font-size="11" text-anchor="end" fill="#000" >160</text>
<text x="352.8" y="380.6" font-size="11" text-anchor="middle" fill="#000" >0</text>
<text x="386.2" y="380.6" font-size="11" text-anchor="middle" fill="#000" >4</text>
<text x="419.6" y="380.6" font-size="11" text-anchor="middle" fill="#000" >8</text>
<text x="453.0" y="380.6" font-size="11" text-anchor="middle" fill="#000" >12</text>
<text x="486.4" y="380.6" font-size="11" text-anchor="middle" fill="#000" >16</text>
<text x="420.3" y="400.3" font-size="13.3" text-anchor="middle" fill="#000" >Time (hours)</text>
<text transform="translate(280.7,316.35) rotate(-90)" font-size="13.9" text-anchor="middle">Neutrophil distance</text>
<text transform="translate(298,316.5) rotate(-90)" font-size="13.9" text-anchor="middle">from lumen (μm)</text>
<line x1="348.05" y1="349.25" x2="348.05" y2="365.5" stroke="#111" stroke-width="1.3"/>
<line x1="346.55" y1="349.65" x2="349.55" y2="349.65" stroke="#111" stroke-width="1.1"/>
<line x1="357.65" y1="349.25" x2="357.65" y2="365.5" stroke="#111" stroke-width="1.3"/>
<line x1="356.15" y1="349.65" x2="359.15" y2="349.65" stroke="#111" stroke-width="1.1"/>
<rect x="377.40" y="316.4" width="8.3" height="49.10" fill="#a6032f"/>
<rect x="387.10" y="350.9" width="8.1" height="14.60" fill="#6ca844"/>
<line x1="381.55" y1="300.3" x2="381.55" y2="316.4" stroke="#111" stroke-width="1.3"/>
<line x1="380.05" y1="300.7" x2="383.05" y2="300.7" stroke="#111" stroke-width="1.1"/>
<line x1="391.15" y1="335.0" x2="391.15" y2="350.9" stroke="#111" stroke-width="1.3"/>
<line x1="389.65" y1="335.4" x2="392.65" y2="335.4" stroke="#111" stroke-width="1.1"/>
<rect x="410.90" y="302.4" width="8.3" height="63.10" fill="#a6032f"/>
<rect x="420.60" y="354.8" width="8.1" height="10.70" fill="#6ca844"/>
<line x1="415.05" y1="286.5" x2="415.05" y2="302.4" stroke="#111" stroke-width="1.3"/>
<line x1="413.55" y1="286.9" x2="416.55" y2="286.9" stroke="#111" stroke-width="1.1"/>
<line x1="424.65" y1="339.0" x2="424.65" y2="354.8" stroke="#111" stroke-width="1.3"/>
<line x1="423.15" y1="339.4" x2="426.15" y2="339.4" stroke="#111" stroke-width="1.1"/>
<rect x="444.40" y="301.0" width="8.3" height="64.50" fill="#a6032f"/>
<rect x="454.10" y="343.4" width="8.1" height="22.10" fill="#6ca844"/>
<line x1="448.55" y1="284.4" x2="448.55" y2="301.0" stroke="#111" stroke-width="1.3"/>
<line x1="447.05" y1="284.79999999999995" x2="450.05" y2="284.79999999999995" stroke="#111" stroke-width="1.1"/>
<line x1="458.15" y1="327.0" x2="458.15" y2="343.4" stroke="#111" stroke-width="1.3"/>
<line x1="456.65" y1="327.4" x2="459.65" y2="327.4" stroke="#111" stroke-width="1.1"/>
<rect x="477.90" y="291.8" width="8.3" height="73.70" fill="#a6032f"/>
<rect x="487.60" y="340.3" width="8.1" height="25.20" fill="#6ca844"/>
<line x1="482.05" y1="275.4" x2="482.05" y2="291.8" stroke="#111" stroke-width="1.3"/>
<line x1="480.55" y1="275.79999999999995" x2="483.55" y2="275.79999999999995" stroke="#111" stroke-width="1.1"/>
<line x1="491.65" y1="323.6" x2="491.65" y2="340.3" stroke="#111" stroke-width="1.3"/>
<line x1="490.15" y1="324.0" x2="493.15" y2="324.0" stroke="#111" stroke-width="1.1"/>
<path d="M379.25,291.20L379.25,295.40M381.07,292.25L377.43,294.35M381.07,294.35L377.43,292.25" stroke="#333" stroke-width="1.0" fill="none"/><path d="M383.95,291.20L383.95,295.40M385.77,292.25L382.13,294.35M385.77,294.35L382.13,292.25" stroke="#333" stroke-width="1.0" fill="none"/>
<path d="M412.75,277.80L412.75,282.00M414.57,278.85L410.93,280.95M414.57,280.95L410.93,278.85" stroke="#333" stroke-width="1.0" fill="none"/><path d="M417.45,277.80L417.45,282.00M419.27,278.85L415.63,280.95M419.27,280.95L415.63,278.85" stroke="#333" stroke-width="1.0" fill="none"/>
<path d="M448.00,274.60L448.00,278.80M449.82,275.65L446.18,277.75M449.82,277.75L446.18,275.65" stroke="#333" stroke-width="1.0" fill="none"/>
<path d="M480.25,266.60L480.25,270.80M482.07,267.65L478.43,269.75M482.07,269.75L478.43,267.65" stroke="#333" stroke-width="1.0" fill="none"/><path d="M484.95,266.60L484.95,270.80M486.77,267.65L483.13,269.75M486.77,269.75L483.13,267.65" stroke="#333" stroke-width="1.0" fill="none"/>
</svg>
</body></html>
